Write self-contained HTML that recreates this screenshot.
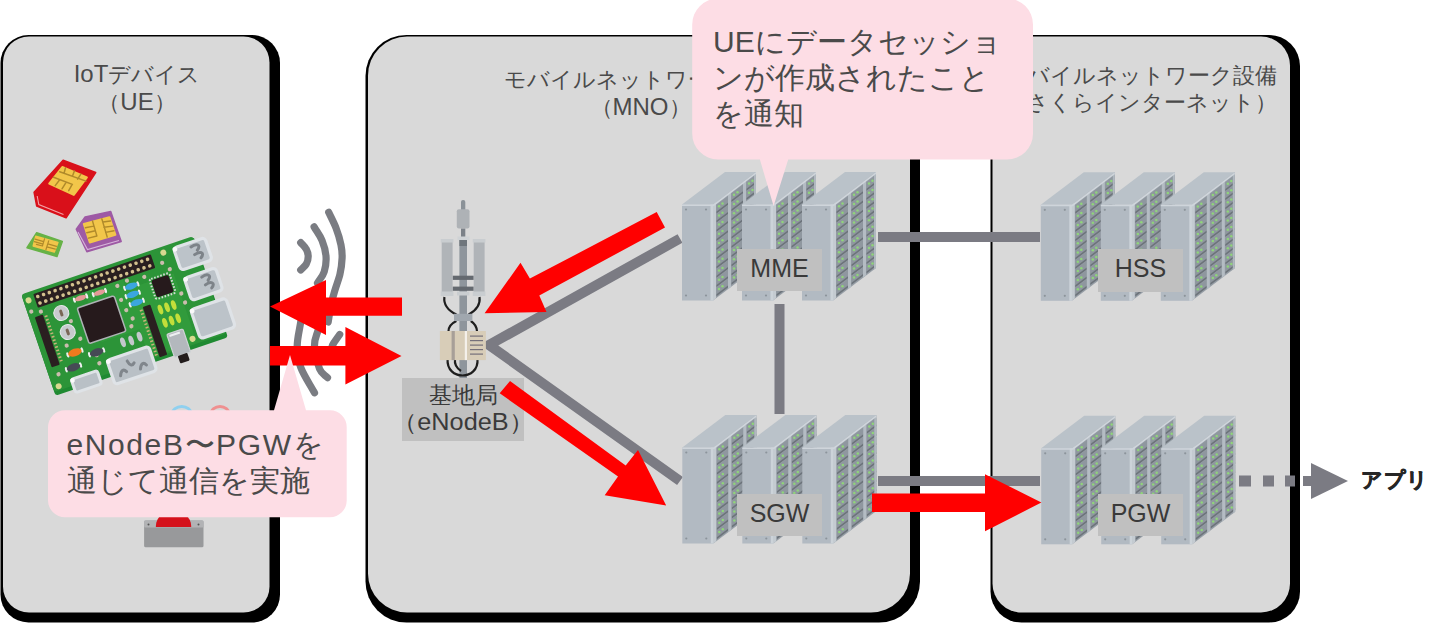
<!DOCTYPE html>
<html><head><meta charset="utf-8">
<style>
html,body{margin:0;padding:0;background:#fff;}
body{width:1442px;height:625px;position:relative;overflow:hidden;font-family:"Liberation Sans",sans-serif;}
svg{position:absolute;left:0;top:0;}
.t{position:absolute;white-space:nowrap;color:#404040;}
.title{font-size:22px;line-height:27px;text-align:center;color:#4a4a4a;}
.lab{position:absolute;background:#c0c0c0;color:#3a3a3a;text-align:center;font-size:25px;}
.callout{font-size:30px;line-height:36px;color:#4a4a4a;}
</style></head><body>
<svg width="1442" height="625" viewBox="0 0 1442 625">

  <rect x="0.5" y="35" width="279.5" height="587.5" rx="28" fill="#000"/>
  <rect x="3" y="36.5" width="266.5" height="576" rx="26" fill="#d9d9d9"/>
  <rect x="365.5" y="35" width="554.5" height="587.5" rx="41" fill="#000"/>
  <rect x="368" y="36.5" width="542" height="576" rx="39" fill="#d9d9d9"/>
  <rect x="990.5" y="35" width="309.5" height="587.5" rx="31" fill="#000"/>
  <rect x="992.5" y="36.5" width="297.5" height="576" rx="29" fill="#d9d9d9"/>

</svg>

<div class="t title" style="left:37px;top:60px;width:200px;"><span style="font-size:24px">IoT</span>デバイス<br>（<span style="font-size:24px">UE</span>）</div>
<div class="t title" style="left:490.5px;top:66px;width:300px;">モバイルネットワーク設備<br>（<span style="font-size:24px">MNO</span>）</div>
<div class="t title" style="left:990px;top:62px;width:300px;">モバイルネットワーク設備<br>（さくらインターネット）</div>
<svg width="1442" height="625" viewBox="0 0 1442 625">

  <g fill="none" stroke="#7b7b83" stroke-width="10">
    <path d="M680 238.5 L489 345 L680 481"/>
    <path d="M878 237 H1040"/>
    <path d="M779.5 304 V414"/>
    <path d="M878 481 H1040"/>
  </g>
  <g fill="#7b7b83">
    <rect x="1239" y="475.5" width="12" height="11"/>
    <rect x="1263" y="475.5" width="11" height="11"/>
    <rect x="1285" y="475.5" width="10" height="11"/>
    <rect x="1303" y="476" width="10" height="10"/>
    <path d="M1311 463 L1348 481 L1311 499 Z"/>
  </g>

</svg>
<svg width="1442" height="625" viewBox="0 0 1442 625">
<polygon points="682,204.5 713,204.5 756,172.0 725,172.0" fill="#bac2c9"/>
<polygon points="713,204.5 756,172.0 756,268.0 713,300.5" fill="#959da5"/>
<polygon points="716.5,204.9 728.0,196.2 728.0,202.7 716.5,211.4" fill="#8f979f"/>
<polygon points="716.5,211.4 728.0,202.7 728.0,204.7 716.5,213.4" fill="#6c737a"/>
<circle cx="719.0" cy="206.2" r="1.25" fill="#8fd47a"/>
<circle cx="722.5" cy="203.5" r="1.25" fill="#8fd47a"/>
<polygon points="716.5,214.1 728.0,205.4 728.0,211.9 716.5,220.6" fill="#8f979f"/>
<polygon points="716.5,220.6 728.0,211.9 728.0,213.9 716.5,222.6" fill="#6c737a"/>
<circle cx="719.0" cy="215.4" r="1.25" fill="#8fd47a"/>
<circle cx="722.5" cy="212.7" r="1.25" fill="#8fd47a"/>
<polygon points="716.5,223.3 728.0,214.6 728.0,221.1 716.5,229.8" fill="#8f979f"/>
<polygon points="716.5,229.8 728.0,221.1 728.0,223.1 716.5,231.8" fill="#6c737a"/>
<circle cx="719.0" cy="224.6" r="1.25" fill="#8fd47a"/>
<circle cx="722.5" cy="221.9" r="1.25" fill="#8fd47a"/>
<polygon points="716.5,232.5 728.0,223.8 728.0,230.3 716.5,239.0" fill="#8f979f"/>
<polygon points="716.5,239.0 728.0,230.3 728.0,232.3 716.5,241.0" fill="#6c737a"/>
<circle cx="719.0" cy="233.8" r="1.25" fill="#8fd47a"/>
<circle cx="722.5" cy="231.1" r="1.25" fill="#8fd47a"/>
<polygon points="716.5,241.7 728.0,233.0 728.0,239.5 716.5,248.2" fill="#8f979f"/>
<polygon points="716.5,248.2 728.0,239.5 728.0,241.5 716.5,250.2" fill="#6c737a"/>
<circle cx="719.0" cy="243.0" r="1.25" fill="#8fd47a"/>
<circle cx="722.5" cy="240.3" r="1.25" fill="#8fd47a"/>
<polygon points="716.5,250.9 728.0,242.2 728.0,248.7 716.5,257.4" fill="#8f979f"/>
<polygon points="716.5,257.4 728.0,248.7 728.0,250.7 716.5,259.4" fill="#6c737a"/>
<circle cx="719.0" cy="252.2" r="1.25" fill="#8fd47a"/>
<circle cx="722.5" cy="249.5" r="1.25" fill="#8fd47a"/>
<polygon points="716.5,260.1 728.0,251.4 728.0,257.9 716.5,266.6" fill="#8f979f"/>
<polygon points="716.5,266.6 728.0,257.9 728.0,259.9 716.5,268.6" fill="#6c737a"/>
<circle cx="719.0" cy="261.4" r="1.25" fill="#8fd47a"/>
<circle cx="722.5" cy="258.7" r="1.25" fill="#8fd47a"/>
<polygon points="716.5,269.3 728.0,260.6 728.0,267.1 716.5,275.8" fill="#8f979f"/>
<polygon points="716.5,275.8 728.0,267.1 728.0,269.1 716.5,277.8" fill="#6c737a"/>
<circle cx="719.0" cy="270.6" r="1.25" fill="#8fd47a"/>
<circle cx="722.5" cy="267.9" r="1.25" fill="#8fd47a"/>
<polygon points="716.5,278.5 728.0,269.8 728.0,276.3 716.5,285.0" fill="#8f979f"/>
<polygon points="716.5,285.0 728.0,276.3 728.0,278.3 716.5,287.0" fill="#6c737a"/>
<circle cx="719.0" cy="279.8" r="1.25" fill="#8fd47a"/>
<circle cx="722.5" cy="277.1" r="1.25" fill="#8fd47a"/>
<polygon points="716.5,287.7 728.0,279.0 728.0,285.5 716.5,294.2" fill="#8f979f"/>
<polygon points="716.5,294.2 728.0,285.5 728.0,287.5 716.5,296.2" fill="#6c737a"/>
<circle cx="719.0" cy="289.0" r="1.25" fill="#8fd47a"/>
<circle cx="722.5" cy="286.3" r="1.25" fill="#8fd47a"/>
<polygon points="731.5,193.5 743.0,184.8 743.0,191.3 731.5,200.0" fill="#8f979f"/>
<polygon points="731.5,200.0 743.0,191.3 743.0,193.3 731.5,202.0" fill="#6c737a"/>
<circle cx="734.0" cy="194.8" r="1.25" fill="#8fd47a"/>
<circle cx="737.5" cy="192.2" r="1.25" fill="#8fd47a"/>
<polygon points="731.5,202.7 743.0,194.0 743.0,200.5 731.5,209.2" fill="#8f979f"/>
<polygon points="731.5,209.2 743.0,200.5 743.0,202.5 731.5,211.2" fill="#6c737a"/>
<circle cx="734.0" cy="204.0" r="1.25" fill="#8fd47a"/>
<circle cx="737.5" cy="201.4" r="1.25" fill="#8fd47a"/>
<polygon points="731.5,211.9 743.0,203.2 743.0,209.7 731.5,218.4" fill="#8f979f"/>
<polygon points="731.5,218.4 743.0,209.7 743.0,211.7 731.5,220.4" fill="#6c737a"/>
<circle cx="734.0" cy="213.2" r="1.25" fill="#8fd47a"/>
<circle cx="737.5" cy="210.6" r="1.25" fill="#8fd47a"/>
<polygon points="731.5,221.1 743.0,212.4 743.0,218.9 731.5,227.6" fill="#8f979f"/>
<polygon points="731.5,227.6 743.0,218.9 743.0,220.9 731.5,229.6" fill="#6c737a"/>
<circle cx="734.0" cy="222.4" r="1.25" fill="#8fd47a"/>
<circle cx="737.5" cy="219.8" r="1.25" fill="#8fd47a"/>
<polygon points="731.5,230.3 743.0,221.6 743.0,228.1 731.5,236.8" fill="#8f979f"/>
<polygon points="731.5,236.8 743.0,228.1 743.0,230.1 731.5,238.8" fill="#6c737a"/>
<circle cx="734.0" cy="231.6" r="1.25" fill="#8fd47a"/>
<circle cx="737.5" cy="229.0" r="1.25" fill="#8fd47a"/>
<polygon points="731.5,239.5 743.0,230.8 743.0,237.3 731.5,246.0" fill="#8f979f"/>
<polygon points="731.5,246.0 743.0,237.3 743.0,239.3 731.5,248.0" fill="#6c737a"/>
<circle cx="734.0" cy="240.8" r="1.25" fill="#8fd47a"/>
<circle cx="737.5" cy="238.2" r="1.25" fill="#8fd47a"/>
<polygon points="731.5,248.7 743.0,240.0 743.0,246.5 731.5,255.2" fill="#8f979f"/>
<polygon points="731.5,255.2 743.0,246.5 743.0,248.5 731.5,257.2" fill="#6c737a"/>
<circle cx="734.0" cy="250.0" r="1.25" fill="#8fd47a"/>
<circle cx="737.5" cy="247.4" r="1.25" fill="#8fd47a"/>
<polygon points="731.5,257.9 743.0,249.2 743.0,255.7 731.5,264.4" fill="#8f979f"/>
<polygon points="731.5,264.4 743.0,255.7 743.0,257.7 731.5,266.4" fill="#6c737a"/>
<circle cx="734.0" cy="259.2" r="1.25" fill="#8fd47a"/>
<circle cx="737.5" cy="256.6" r="1.25" fill="#8fd47a"/>
<polygon points="731.5,267.1 743.0,258.4 743.0,264.9 731.5,273.6" fill="#8f979f"/>
<polygon points="731.5,273.6 743.0,264.9 743.0,266.9 731.5,275.6" fill="#6c737a"/>
<circle cx="734.0" cy="268.4" r="1.25" fill="#8fd47a"/>
<circle cx="737.5" cy="265.8" r="1.25" fill="#8fd47a"/>
<polygon points="731.5,276.3 743.0,267.6 743.0,274.1 731.5,282.8" fill="#8f979f"/>
<polygon points="731.5,282.8 743.0,274.1 743.0,276.1 731.5,284.8" fill="#6c737a"/>
<circle cx="734.0" cy="277.6" r="1.25" fill="#8fd47a"/>
<circle cx="737.5" cy="275.0" r="1.25" fill="#8fd47a"/>
<polygon points="746.5,182.2 756.0,175.0 756.0,181.5 746.5,188.7" fill="#8f979f"/>
<polygon points="746.5,188.7 756.0,181.5 756.0,183.5 746.5,190.7" fill="#6c737a"/>
<circle cx="749.0" cy="183.5" r="1.25" fill="#8fd47a"/>
<circle cx="752.5" cy="180.8" r="1.25" fill="#8fd47a"/>
<polygon points="746.5,191.4 756.0,184.2 756.0,190.7 746.5,197.9" fill="#8f979f"/>
<polygon points="746.5,197.9 756.0,190.7 756.0,192.7 746.5,199.9" fill="#6c737a"/>
<circle cx="749.0" cy="192.7" r="1.25" fill="#8fd47a"/>
<circle cx="752.5" cy="190.0" r="1.25" fill="#8fd47a"/>
<polygon points="746.5,200.6 756.0,193.4 756.0,199.9 746.5,207.1" fill="#8f979f"/>
<polygon points="746.5,207.1 756.0,199.9 756.0,201.9 746.5,209.1" fill="#6c737a"/>
<circle cx="749.0" cy="201.9" r="1.25" fill="#8fd47a"/>
<circle cx="752.5" cy="199.2" r="1.25" fill="#8fd47a"/>
<polygon points="746.5,209.8 756.0,202.6 756.0,209.1 746.5,216.3" fill="#8f979f"/>
<polygon points="746.5,216.3 756.0,209.1 756.0,211.1 746.5,218.3" fill="#6c737a"/>
<circle cx="749.0" cy="211.1" r="1.25" fill="#8fd47a"/>
<circle cx="752.5" cy="208.4" r="1.25" fill="#8fd47a"/>
<polygon points="746.5,219.0 756.0,211.8 756.0,218.3 746.5,225.5" fill="#8f979f"/>
<polygon points="746.5,225.5 756.0,218.3 756.0,220.3 746.5,227.5" fill="#6c737a"/>
<circle cx="749.0" cy="220.3" r="1.25" fill="#8fd47a"/>
<circle cx="752.5" cy="217.6" r="1.25" fill="#8fd47a"/>
<polygon points="746.5,228.2 756.0,221.0 756.0,227.5 746.5,234.7" fill="#8f979f"/>
<polygon points="746.5,234.7 756.0,227.5 756.0,229.5 746.5,236.7" fill="#6c737a"/>
<circle cx="749.0" cy="229.5" r="1.25" fill="#8fd47a"/>
<circle cx="752.5" cy="226.8" r="1.25" fill="#8fd47a"/>
<polygon points="746.5,237.4 756.0,230.2 756.0,236.7 746.5,243.9" fill="#8f979f"/>
<polygon points="746.5,243.9 756.0,236.7 756.0,238.7 746.5,245.9" fill="#6c737a"/>
<circle cx="749.0" cy="238.7" r="1.25" fill="#8fd47a"/>
<circle cx="752.5" cy="236.0" r="1.25" fill="#8fd47a"/>
<polygon points="746.5,246.6 756.0,239.4 756.0,245.9 746.5,253.1" fill="#8f979f"/>
<polygon points="746.5,253.1 756.0,245.9 756.0,247.9 746.5,255.1" fill="#6c737a"/>
<circle cx="749.0" cy="247.9" r="1.25" fill="#8fd47a"/>
<circle cx="752.5" cy="245.2" r="1.25" fill="#8fd47a"/>
<polygon points="746.5,255.8 756.0,248.6 756.0,255.1 746.5,262.3" fill="#8f979f"/>
<polygon points="746.5,262.3 756.0,255.1 756.0,257.1 746.5,264.3" fill="#6c737a"/>
<circle cx="749.0" cy="257.1" r="1.25" fill="#8fd47a"/>
<circle cx="752.5" cy="254.4" r="1.25" fill="#8fd47a"/>
<polygon points="746.5,265.0 756.0,257.8 756.0,264.3 746.5,271.5" fill="#8f979f"/>
<polygon points="746.5,271.5 756.0,264.3 756.0,266.3 746.5,273.5" fill="#6c737a"/>
<circle cx="749.0" cy="266.3" r="1.25" fill="#8fd47a"/>
<circle cx="752.5" cy="263.6" r="1.25" fill="#8fd47a"/>
<polygon points="728,193.16 731,190.892 731,286.892 728,289.16" fill="#b4bcc3"/>
<polygon points="743,181.82 746,179.552 746,275.552 743,277.82" fill="#b4bcc3"/>
<polygon points="754,173.5 756,172.0 756,268.0 754,269.5" fill="#b0b8bf"/>
<rect x="682" y="204.5" width="31" height="96" fill="#b2bac2"/>
<rect x="710.5" y="204.5" width="3" height="96" fill="#ccd3d9"/>
<polygon points="713,204.5 716,202.232 716,298.232 713,300.5" fill="#c4cbd1"/>
<polygon points="682,204.5 713,204.5 756,172.0 756,174.0 714,206.0 682,206.0" fill="#cfd5db"/>
<circle cx="686" cy="209.5" r="1.1" fill="#8c949b"/>
<circle cx="706" cy="209.5" r="1.1" fill="#8c949b"/>
<circle cx="686" cy="295.5" r="1.1" fill="#8c949b"/>
<circle cx="706" cy="295.5" r="1.1" fill="#8c949b"/>
<polygon points="742,204.5 773,204.5 816,172.0 785,172.0" fill="#bac2c9"/>
<polygon points="773,204.5 816,172.0 816,268.0 773,300.5" fill="#959da5"/>
<polygon points="776.5,204.9 788.0,196.2 788.0,202.7 776.5,211.4" fill="#8f979f"/>
<polygon points="776.5,211.4 788.0,202.7 788.0,204.7 776.5,213.4" fill="#6c737a"/>
<circle cx="779.0" cy="206.2" r="1.25" fill="#8fd47a"/>
<circle cx="782.5" cy="203.5" r="1.25" fill="#8fd47a"/>
<polygon points="776.5,214.1 788.0,205.4 788.0,211.9 776.5,220.6" fill="#8f979f"/>
<polygon points="776.5,220.6 788.0,211.9 788.0,213.9 776.5,222.6" fill="#6c737a"/>
<circle cx="779.0" cy="215.4" r="1.25" fill="#8fd47a"/>
<circle cx="782.5" cy="212.7" r="1.25" fill="#8fd47a"/>
<polygon points="776.5,223.3 788.0,214.6 788.0,221.1 776.5,229.8" fill="#8f979f"/>
<polygon points="776.5,229.8 788.0,221.1 788.0,223.1 776.5,231.8" fill="#6c737a"/>
<circle cx="779.0" cy="224.6" r="1.25" fill="#8fd47a"/>
<circle cx="782.5" cy="221.9" r="1.25" fill="#8fd47a"/>
<polygon points="776.5,232.5 788.0,223.8 788.0,230.3 776.5,239.0" fill="#8f979f"/>
<polygon points="776.5,239.0 788.0,230.3 788.0,232.3 776.5,241.0" fill="#6c737a"/>
<circle cx="779.0" cy="233.8" r="1.25" fill="#8fd47a"/>
<circle cx="782.5" cy="231.1" r="1.25" fill="#8fd47a"/>
<polygon points="776.5,241.7 788.0,233.0 788.0,239.5 776.5,248.2" fill="#8f979f"/>
<polygon points="776.5,248.2 788.0,239.5 788.0,241.5 776.5,250.2" fill="#6c737a"/>
<circle cx="779.0" cy="243.0" r="1.25" fill="#8fd47a"/>
<circle cx="782.5" cy="240.3" r="1.25" fill="#8fd47a"/>
<polygon points="776.5,250.9 788.0,242.2 788.0,248.7 776.5,257.4" fill="#8f979f"/>
<polygon points="776.5,257.4 788.0,248.7 788.0,250.7 776.5,259.4" fill="#6c737a"/>
<circle cx="779.0" cy="252.2" r="1.25" fill="#8fd47a"/>
<circle cx="782.5" cy="249.5" r="1.25" fill="#8fd47a"/>
<polygon points="776.5,260.1 788.0,251.4 788.0,257.9 776.5,266.6" fill="#8f979f"/>
<polygon points="776.5,266.6 788.0,257.9 788.0,259.9 776.5,268.6" fill="#6c737a"/>
<circle cx="779.0" cy="261.4" r="1.25" fill="#8fd47a"/>
<circle cx="782.5" cy="258.7" r="1.25" fill="#8fd47a"/>
<polygon points="776.5,269.3 788.0,260.6 788.0,267.1 776.5,275.8" fill="#8f979f"/>
<polygon points="776.5,275.8 788.0,267.1 788.0,269.1 776.5,277.8" fill="#6c737a"/>
<circle cx="779.0" cy="270.6" r="1.25" fill="#8fd47a"/>
<circle cx="782.5" cy="267.9" r="1.25" fill="#8fd47a"/>
<polygon points="776.5,278.5 788.0,269.8 788.0,276.3 776.5,285.0" fill="#8f979f"/>
<polygon points="776.5,285.0 788.0,276.3 788.0,278.3 776.5,287.0" fill="#6c737a"/>
<circle cx="779.0" cy="279.8" r="1.25" fill="#8fd47a"/>
<circle cx="782.5" cy="277.1" r="1.25" fill="#8fd47a"/>
<polygon points="776.5,287.7 788.0,279.0 788.0,285.5 776.5,294.2" fill="#8f979f"/>
<polygon points="776.5,294.2 788.0,285.5 788.0,287.5 776.5,296.2" fill="#6c737a"/>
<circle cx="779.0" cy="289.0" r="1.25" fill="#8fd47a"/>
<circle cx="782.5" cy="286.3" r="1.25" fill="#8fd47a"/>
<polygon points="791.5,193.5 803.0,184.8 803.0,191.3 791.5,200.0" fill="#8f979f"/>
<polygon points="791.5,200.0 803.0,191.3 803.0,193.3 791.5,202.0" fill="#6c737a"/>
<circle cx="794.0" cy="194.8" r="1.25" fill="#8fd47a"/>
<circle cx="797.5" cy="192.2" r="1.25" fill="#8fd47a"/>
<polygon points="791.5,202.7 803.0,194.0 803.0,200.5 791.5,209.2" fill="#8f979f"/>
<polygon points="791.5,209.2 803.0,200.5 803.0,202.5 791.5,211.2" fill="#6c737a"/>
<circle cx="794.0" cy="204.0" r="1.25" fill="#8fd47a"/>
<circle cx="797.5" cy="201.4" r="1.25" fill="#8fd47a"/>
<polygon points="791.5,211.9 803.0,203.2 803.0,209.7 791.5,218.4" fill="#8f979f"/>
<polygon points="791.5,218.4 803.0,209.7 803.0,211.7 791.5,220.4" fill="#6c737a"/>
<circle cx="794.0" cy="213.2" r="1.25" fill="#8fd47a"/>
<circle cx="797.5" cy="210.6" r="1.25" fill="#8fd47a"/>
<polygon points="791.5,221.1 803.0,212.4 803.0,218.9 791.5,227.6" fill="#8f979f"/>
<polygon points="791.5,227.6 803.0,218.9 803.0,220.9 791.5,229.6" fill="#6c737a"/>
<circle cx="794.0" cy="222.4" r="1.25" fill="#8fd47a"/>
<circle cx="797.5" cy="219.8" r="1.25" fill="#8fd47a"/>
<polygon points="791.5,230.3 803.0,221.6 803.0,228.1 791.5,236.8" fill="#8f979f"/>
<polygon points="791.5,236.8 803.0,228.1 803.0,230.1 791.5,238.8" fill="#6c737a"/>
<circle cx="794.0" cy="231.6" r="1.25" fill="#8fd47a"/>
<circle cx="797.5" cy="229.0" r="1.25" fill="#8fd47a"/>
<polygon points="791.5,239.5 803.0,230.8 803.0,237.3 791.5,246.0" fill="#8f979f"/>
<polygon points="791.5,246.0 803.0,237.3 803.0,239.3 791.5,248.0" fill="#6c737a"/>
<circle cx="794.0" cy="240.8" r="1.25" fill="#8fd47a"/>
<circle cx="797.5" cy="238.2" r="1.25" fill="#8fd47a"/>
<polygon points="791.5,248.7 803.0,240.0 803.0,246.5 791.5,255.2" fill="#8f979f"/>
<polygon points="791.5,255.2 803.0,246.5 803.0,248.5 791.5,257.2" fill="#6c737a"/>
<circle cx="794.0" cy="250.0" r="1.25" fill="#8fd47a"/>
<circle cx="797.5" cy="247.4" r="1.25" fill="#8fd47a"/>
<polygon points="791.5,257.9 803.0,249.2 803.0,255.7 791.5,264.4" fill="#8f979f"/>
<polygon points="791.5,264.4 803.0,255.7 803.0,257.7 791.5,266.4" fill="#6c737a"/>
<circle cx="794.0" cy="259.2" r="1.25" fill="#8fd47a"/>
<circle cx="797.5" cy="256.6" r="1.25" fill="#8fd47a"/>
<polygon points="791.5,267.1 803.0,258.4 803.0,264.9 791.5,273.6" fill="#8f979f"/>
<polygon points="791.5,273.6 803.0,264.9 803.0,266.9 791.5,275.6" fill="#6c737a"/>
<circle cx="794.0" cy="268.4" r="1.25" fill="#8fd47a"/>
<circle cx="797.5" cy="265.8" r="1.25" fill="#8fd47a"/>
<polygon points="791.5,276.3 803.0,267.6 803.0,274.1 791.5,282.8" fill="#8f979f"/>
<polygon points="791.5,282.8 803.0,274.1 803.0,276.1 791.5,284.8" fill="#6c737a"/>
<circle cx="794.0" cy="277.6" r="1.25" fill="#8fd47a"/>
<circle cx="797.5" cy="275.0" r="1.25" fill="#8fd47a"/>
<polygon points="806.5,182.2 816.0,175.0 816.0,181.5 806.5,188.7" fill="#8f979f"/>
<polygon points="806.5,188.7 816.0,181.5 816.0,183.5 806.5,190.7" fill="#6c737a"/>
<circle cx="809.0" cy="183.5" r="1.25" fill="#8fd47a"/>
<circle cx="812.5" cy="180.8" r="1.25" fill="#8fd47a"/>
<polygon points="806.5,191.4 816.0,184.2 816.0,190.7 806.5,197.9" fill="#8f979f"/>
<polygon points="806.5,197.9 816.0,190.7 816.0,192.7 806.5,199.9" fill="#6c737a"/>
<circle cx="809.0" cy="192.7" r="1.25" fill="#8fd47a"/>
<circle cx="812.5" cy="190.0" r="1.25" fill="#8fd47a"/>
<polygon points="806.5,200.6 816.0,193.4 816.0,199.9 806.5,207.1" fill="#8f979f"/>
<polygon points="806.5,207.1 816.0,199.9 816.0,201.9 806.5,209.1" fill="#6c737a"/>
<circle cx="809.0" cy="201.9" r="1.25" fill="#8fd47a"/>
<circle cx="812.5" cy="199.2" r="1.25" fill="#8fd47a"/>
<polygon points="806.5,209.8 816.0,202.6 816.0,209.1 806.5,216.3" fill="#8f979f"/>
<polygon points="806.5,216.3 816.0,209.1 816.0,211.1 806.5,218.3" fill="#6c737a"/>
<circle cx="809.0" cy="211.1" r="1.25" fill="#8fd47a"/>
<circle cx="812.5" cy="208.4" r="1.25" fill="#8fd47a"/>
<polygon points="806.5,219.0 816.0,211.8 816.0,218.3 806.5,225.5" fill="#8f979f"/>
<polygon points="806.5,225.5 816.0,218.3 816.0,220.3 806.5,227.5" fill="#6c737a"/>
<circle cx="809.0" cy="220.3" r="1.25" fill="#8fd47a"/>
<circle cx="812.5" cy="217.6" r="1.25" fill="#8fd47a"/>
<polygon points="806.5,228.2 816.0,221.0 816.0,227.5 806.5,234.7" fill="#8f979f"/>
<polygon points="806.5,234.7 816.0,227.5 816.0,229.5 806.5,236.7" fill="#6c737a"/>
<circle cx="809.0" cy="229.5" r="1.25" fill="#8fd47a"/>
<circle cx="812.5" cy="226.8" r="1.25" fill="#8fd47a"/>
<polygon points="806.5,237.4 816.0,230.2 816.0,236.7 806.5,243.9" fill="#8f979f"/>
<polygon points="806.5,243.9 816.0,236.7 816.0,238.7 806.5,245.9" fill="#6c737a"/>
<circle cx="809.0" cy="238.7" r="1.25" fill="#8fd47a"/>
<circle cx="812.5" cy="236.0" r="1.25" fill="#8fd47a"/>
<polygon points="806.5,246.6 816.0,239.4 816.0,245.9 806.5,253.1" fill="#8f979f"/>
<polygon points="806.5,253.1 816.0,245.9 816.0,247.9 806.5,255.1" fill="#6c737a"/>
<circle cx="809.0" cy="247.9" r="1.25" fill="#8fd47a"/>
<circle cx="812.5" cy="245.2" r="1.25" fill="#8fd47a"/>
<polygon points="806.5,255.8 816.0,248.6 816.0,255.1 806.5,262.3" fill="#8f979f"/>
<polygon points="806.5,262.3 816.0,255.1 816.0,257.1 806.5,264.3" fill="#6c737a"/>
<circle cx="809.0" cy="257.1" r="1.25" fill="#8fd47a"/>
<circle cx="812.5" cy="254.4" r="1.25" fill="#8fd47a"/>
<polygon points="806.5,265.0 816.0,257.8 816.0,264.3 806.5,271.5" fill="#8f979f"/>
<polygon points="806.5,271.5 816.0,264.3 816.0,266.3 806.5,273.5" fill="#6c737a"/>
<circle cx="809.0" cy="266.3" r="1.25" fill="#8fd47a"/>
<circle cx="812.5" cy="263.6" r="1.25" fill="#8fd47a"/>
<polygon points="788,193.16 791,190.892 791,286.892 788,289.16" fill="#b4bcc3"/>
<polygon points="803,181.82 806,179.552 806,275.552 803,277.82" fill="#b4bcc3"/>
<polygon points="814,173.5 816,172.0 816,268.0 814,269.5" fill="#b0b8bf"/>
<rect x="742" y="204.5" width="31" height="96" fill="#b2bac2"/>
<rect x="770.5" y="204.5" width="3" height="96" fill="#ccd3d9"/>
<polygon points="773,204.5 776,202.232 776,298.232 773,300.5" fill="#c4cbd1"/>
<polygon points="742,204.5 773,204.5 816,172.0 816,174.0 774,206.0 742,206.0" fill="#cfd5db"/>
<circle cx="746" cy="209.5" r="1.1" fill="#8c949b"/>
<circle cx="766" cy="209.5" r="1.1" fill="#8c949b"/>
<circle cx="746" cy="295.5" r="1.1" fill="#8c949b"/>
<circle cx="766" cy="295.5" r="1.1" fill="#8c949b"/>
<polygon points="802,204.5 833,204.5 876,172.0 845,172.0" fill="#bac2c9"/>
<polygon points="833,204.5 876,172.0 876,268.0 833,300.5" fill="#959da5"/>
<polygon points="836.5,204.9 848.0,196.2 848.0,202.7 836.5,211.4" fill="#8f979f"/>
<polygon points="836.5,211.4 848.0,202.7 848.0,204.7 836.5,213.4" fill="#6c737a"/>
<circle cx="839.0" cy="206.2" r="1.25" fill="#8fd47a"/>
<circle cx="842.5" cy="203.5" r="1.25" fill="#8fd47a"/>
<polygon points="836.5,214.1 848.0,205.4 848.0,211.9 836.5,220.6" fill="#8f979f"/>
<polygon points="836.5,220.6 848.0,211.9 848.0,213.9 836.5,222.6" fill="#6c737a"/>
<circle cx="839.0" cy="215.4" r="1.25" fill="#8fd47a"/>
<circle cx="842.5" cy="212.7" r="1.25" fill="#8fd47a"/>
<polygon points="836.5,223.3 848.0,214.6 848.0,221.1 836.5,229.8" fill="#8f979f"/>
<polygon points="836.5,229.8 848.0,221.1 848.0,223.1 836.5,231.8" fill="#6c737a"/>
<circle cx="839.0" cy="224.6" r="1.25" fill="#8fd47a"/>
<circle cx="842.5" cy="221.9" r="1.25" fill="#8fd47a"/>
<polygon points="836.5,232.5 848.0,223.8 848.0,230.3 836.5,239.0" fill="#8f979f"/>
<polygon points="836.5,239.0 848.0,230.3 848.0,232.3 836.5,241.0" fill="#6c737a"/>
<circle cx="839.0" cy="233.8" r="1.25" fill="#8fd47a"/>
<circle cx="842.5" cy="231.1" r="1.25" fill="#8fd47a"/>
<polygon points="836.5,241.7 848.0,233.0 848.0,239.5 836.5,248.2" fill="#8f979f"/>
<polygon points="836.5,248.2 848.0,239.5 848.0,241.5 836.5,250.2" fill="#6c737a"/>
<circle cx="839.0" cy="243.0" r="1.25" fill="#8fd47a"/>
<circle cx="842.5" cy="240.3" r="1.25" fill="#8fd47a"/>
<polygon points="836.5,250.9 848.0,242.2 848.0,248.7 836.5,257.4" fill="#8f979f"/>
<polygon points="836.5,257.4 848.0,248.7 848.0,250.7 836.5,259.4" fill="#6c737a"/>
<circle cx="839.0" cy="252.2" r="1.25" fill="#8fd47a"/>
<circle cx="842.5" cy="249.5" r="1.25" fill="#8fd47a"/>
<polygon points="836.5,260.1 848.0,251.4 848.0,257.9 836.5,266.6" fill="#8f979f"/>
<polygon points="836.5,266.6 848.0,257.9 848.0,259.9 836.5,268.6" fill="#6c737a"/>
<circle cx="839.0" cy="261.4" r="1.25" fill="#8fd47a"/>
<circle cx="842.5" cy="258.7" r="1.25" fill="#8fd47a"/>
<polygon points="836.5,269.3 848.0,260.6 848.0,267.1 836.5,275.8" fill="#8f979f"/>
<polygon points="836.5,275.8 848.0,267.1 848.0,269.1 836.5,277.8" fill="#6c737a"/>
<circle cx="839.0" cy="270.6" r="1.25" fill="#8fd47a"/>
<circle cx="842.5" cy="267.9" r="1.25" fill="#8fd47a"/>
<polygon points="836.5,278.5 848.0,269.8 848.0,276.3 836.5,285.0" fill="#8f979f"/>
<polygon points="836.5,285.0 848.0,276.3 848.0,278.3 836.5,287.0" fill="#6c737a"/>
<circle cx="839.0" cy="279.8" r="1.25" fill="#8fd47a"/>
<circle cx="842.5" cy="277.1" r="1.25" fill="#8fd47a"/>
<polygon points="836.5,287.7 848.0,279.0 848.0,285.5 836.5,294.2" fill="#8f979f"/>
<polygon points="836.5,294.2 848.0,285.5 848.0,287.5 836.5,296.2" fill="#6c737a"/>
<circle cx="839.0" cy="289.0" r="1.25" fill="#8fd47a"/>
<circle cx="842.5" cy="286.3" r="1.25" fill="#8fd47a"/>
<polygon points="851.5,193.5 863.0,184.8 863.0,191.3 851.5,200.0" fill="#8f979f"/>
<polygon points="851.5,200.0 863.0,191.3 863.0,193.3 851.5,202.0" fill="#6c737a"/>
<circle cx="854.0" cy="194.8" r="1.25" fill="#8fd47a"/>
<circle cx="857.5" cy="192.2" r="1.25" fill="#8fd47a"/>
<polygon points="851.5,202.7 863.0,194.0 863.0,200.5 851.5,209.2" fill="#8f979f"/>
<polygon points="851.5,209.2 863.0,200.5 863.0,202.5 851.5,211.2" fill="#6c737a"/>
<circle cx="854.0" cy="204.0" r="1.25" fill="#8fd47a"/>
<circle cx="857.5" cy="201.4" r="1.25" fill="#8fd47a"/>
<polygon points="851.5,211.9 863.0,203.2 863.0,209.7 851.5,218.4" fill="#8f979f"/>
<polygon points="851.5,218.4 863.0,209.7 863.0,211.7 851.5,220.4" fill="#6c737a"/>
<circle cx="854.0" cy="213.2" r="1.25" fill="#8fd47a"/>
<circle cx="857.5" cy="210.6" r="1.25" fill="#8fd47a"/>
<polygon points="851.5,221.1 863.0,212.4 863.0,218.9 851.5,227.6" fill="#8f979f"/>
<polygon points="851.5,227.6 863.0,218.9 863.0,220.9 851.5,229.6" fill="#6c737a"/>
<circle cx="854.0" cy="222.4" r="1.25" fill="#8fd47a"/>
<circle cx="857.5" cy="219.8" r="1.25" fill="#8fd47a"/>
<polygon points="851.5,230.3 863.0,221.6 863.0,228.1 851.5,236.8" fill="#8f979f"/>
<polygon points="851.5,236.8 863.0,228.1 863.0,230.1 851.5,238.8" fill="#6c737a"/>
<circle cx="854.0" cy="231.6" r="1.25" fill="#8fd47a"/>
<circle cx="857.5" cy="229.0" r="1.25" fill="#8fd47a"/>
<polygon points="851.5,239.5 863.0,230.8 863.0,237.3 851.5,246.0" fill="#8f979f"/>
<polygon points="851.5,246.0 863.0,237.3 863.0,239.3 851.5,248.0" fill="#6c737a"/>
<circle cx="854.0" cy="240.8" r="1.25" fill="#8fd47a"/>
<circle cx="857.5" cy="238.2" r="1.25" fill="#8fd47a"/>
<polygon points="851.5,248.7 863.0,240.0 863.0,246.5 851.5,255.2" fill="#8f979f"/>
<polygon points="851.5,255.2 863.0,246.5 863.0,248.5 851.5,257.2" fill="#6c737a"/>
<circle cx="854.0" cy="250.0" r="1.25" fill="#8fd47a"/>
<circle cx="857.5" cy="247.4" r="1.25" fill="#8fd47a"/>
<polygon points="851.5,257.9 863.0,249.2 863.0,255.7 851.5,264.4" fill="#8f979f"/>
<polygon points="851.5,264.4 863.0,255.7 863.0,257.7 851.5,266.4" fill="#6c737a"/>
<circle cx="854.0" cy="259.2" r="1.25" fill="#8fd47a"/>
<circle cx="857.5" cy="256.6" r="1.25" fill="#8fd47a"/>
<polygon points="851.5,267.1 863.0,258.4 863.0,264.9 851.5,273.6" fill="#8f979f"/>
<polygon points="851.5,273.6 863.0,264.9 863.0,266.9 851.5,275.6" fill="#6c737a"/>
<circle cx="854.0" cy="268.4" r="1.25" fill="#8fd47a"/>
<circle cx="857.5" cy="265.8" r="1.25" fill="#8fd47a"/>
<polygon points="851.5,276.3 863.0,267.6 863.0,274.1 851.5,282.8" fill="#8f979f"/>
<polygon points="851.5,282.8 863.0,274.1 863.0,276.1 851.5,284.8" fill="#6c737a"/>
<circle cx="854.0" cy="277.6" r="1.25" fill="#8fd47a"/>
<circle cx="857.5" cy="275.0" r="1.25" fill="#8fd47a"/>
<polygon points="866.5,182.2 876.0,175.0 876.0,181.5 866.5,188.7" fill="#8f979f"/>
<polygon points="866.5,188.7 876.0,181.5 876.0,183.5 866.5,190.7" fill="#6c737a"/>
<circle cx="869.0" cy="183.5" r="1.25" fill="#8fd47a"/>
<circle cx="872.5" cy="180.8" r="1.25" fill="#8fd47a"/>
<polygon points="866.5,191.4 876.0,184.2 876.0,190.7 866.5,197.9" fill="#8f979f"/>
<polygon points="866.5,197.9 876.0,190.7 876.0,192.7 866.5,199.9" fill="#6c737a"/>
<circle cx="869.0" cy="192.7" r="1.25" fill="#8fd47a"/>
<circle cx="872.5" cy="190.0" r="1.25" fill="#8fd47a"/>
<polygon points="866.5,200.6 876.0,193.4 876.0,199.9 866.5,207.1" fill="#8f979f"/>
<polygon points="866.5,207.1 876.0,199.9 876.0,201.9 866.5,209.1" fill="#6c737a"/>
<circle cx="869.0" cy="201.9" r="1.25" fill="#8fd47a"/>
<circle cx="872.5" cy="199.2" r="1.25" fill="#8fd47a"/>
<polygon points="866.5,209.8 876.0,202.6 876.0,209.1 866.5,216.3" fill="#8f979f"/>
<polygon points="866.5,216.3 876.0,209.1 876.0,211.1 866.5,218.3" fill="#6c737a"/>
<circle cx="869.0" cy="211.1" r="1.25" fill="#8fd47a"/>
<circle cx="872.5" cy="208.4" r="1.25" fill="#8fd47a"/>
<polygon points="866.5,219.0 876.0,211.8 876.0,218.3 866.5,225.5" fill="#8f979f"/>
<polygon points="866.5,225.5 876.0,218.3 876.0,220.3 866.5,227.5" fill="#6c737a"/>
<circle cx="869.0" cy="220.3" r="1.25" fill="#8fd47a"/>
<circle cx="872.5" cy="217.6" r="1.25" fill="#8fd47a"/>
<polygon points="866.5,228.2 876.0,221.0 876.0,227.5 866.5,234.7" fill="#8f979f"/>
<polygon points="866.5,234.7 876.0,227.5 876.0,229.5 866.5,236.7" fill="#6c737a"/>
<circle cx="869.0" cy="229.5" r="1.25" fill="#8fd47a"/>
<circle cx="872.5" cy="226.8" r="1.25" fill="#8fd47a"/>
<polygon points="866.5,237.4 876.0,230.2 876.0,236.7 866.5,243.9" fill="#8f979f"/>
<polygon points="866.5,243.9 876.0,236.7 876.0,238.7 866.5,245.9" fill="#6c737a"/>
<circle cx="869.0" cy="238.7" r="1.25" fill="#8fd47a"/>
<circle cx="872.5" cy="236.0" r="1.25" fill="#8fd47a"/>
<polygon points="866.5,246.6 876.0,239.4 876.0,245.9 866.5,253.1" fill="#8f979f"/>
<polygon points="866.5,253.1 876.0,245.9 876.0,247.9 866.5,255.1" fill="#6c737a"/>
<circle cx="869.0" cy="247.9" r="1.25" fill="#8fd47a"/>
<circle cx="872.5" cy="245.2" r="1.25" fill="#8fd47a"/>
<polygon points="866.5,255.8 876.0,248.6 876.0,255.1 866.5,262.3" fill="#8f979f"/>
<polygon points="866.5,262.3 876.0,255.1 876.0,257.1 866.5,264.3" fill="#6c737a"/>
<circle cx="869.0" cy="257.1" r="1.25" fill="#8fd47a"/>
<circle cx="872.5" cy="254.4" r="1.25" fill="#8fd47a"/>
<polygon points="866.5,265.0 876.0,257.8 876.0,264.3 866.5,271.5" fill="#8f979f"/>
<polygon points="866.5,271.5 876.0,264.3 876.0,266.3 866.5,273.5" fill="#6c737a"/>
<circle cx="869.0" cy="266.3" r="1.25" fill="#8fd47a"/>
<circle cx="872.5" cy="263.6" r="1.25" fill="#8fd47a"/>
<polygon points="848,193.16 851,190.892 851,286.892 848,289.16" fill="#b4bcc3"/>
<polygon points="863,181.82 866,179.552 866,275.552 863,277.82" fill="#b4bcc3"/>
<polygon points="874,173.5 876,172.0 876,268.0 874,269.5" fill="#b0b8bf"/>
<rect x="802" y="204.5" width="31" height="96" fill="#b2bac2"/>
<rect x="830.5" y="204.5" width="3" height="96" fill="#ccd3d9"/>
<polygon points="833,204.5 836,202.232 836,298.232 833,300.5" fill="#c4cbd1"/>
<polygon points="802,204.5 833,204.5 876,172.0 876,174.0 834,206.0 802,206.0" fill="#cfd5db"/>
<circle cx="806" cy="209.5" r="1.1" fill="#8c949b"/>
<circle cx="826" cy="209.5" r="1.1" fill="#8c949b"/>
<circle cx="806" cy="295.5" r="1.1" fill="#8c949b"/>
<circle cx="826" cy="295.5" r="1.1" fill="#8c949b"/>
<polygon points="682.3,447.5 713.3,447.5 756.3,415.0 725.3,415.0" fill="#bac2c9"/>
<polygon points="713.3,447.5 756.3,415.0 756.3,511.0 713.3,543.5" fill="#959da5"/>
<polygon points="716.8,447.9 728.3,439.2 728.3,445.7 716.8,454.4" fill="#8f979f"/>
<polygon points="716.8,454.4 728.3,445.7 728.3,447.7 716.8,456.4" fill="#6c737a"/>
<circle cx="719.3" cy="449.2" r="1.25" fill="#8fd47a"/>
<circle cx="722.8" cy="446.5" r="1.25" fill="#8fd47a"/>
<polygon points="716.8,457.1 728.3,448.4 728.3,454.9 716.8,463.6" fill="#8f979f"/>
<polygon points="716.8,463.6 728.3,454.9 728.3,456.9 716.8,465.6" fill="#6c737a"/>
<circle cx="719.3" cy="458.4" r="1.25" fill="#8fd47a"/>
<circle cx="722.8" cy="455.7" r="1.25" fill="#8fd47a"/>
<polygon points="716.8,466.3 728.3,457.6 728.3,464.1 716.8,472.8" fill="#8f979f"/>
<polygon points="716.8,472.8 728.3,464.1 728.3,466.1 716.8,474.8" fill="#6c737a"/>
<circle cx="719.3" cy="467.6" r="1.25" fill="#8fd47a"/>
<circle cx="722.8" cy="464.9" r="1.25" fill="#8fd47a"/>
<polygon points="716.8,475.5 728.3,466.8 728.3,473.3 716.8,482.0" fill="#8f979f"/>
<polygon points="716.8,482.0 728.3,473.3 728.3,475.3 716.8,484.0" fill="#6c737a"/>
<circle cx="719.3" cy="476.8" r="1.25" fill="#8fd47a"/>
<circle cx="722.8" cy="474.1" r="1.25" fill="#8fd47a"/>
<polygon points="716.8,484.7 728.3,476.0 728.3,482.5 716.8,491.2" fill="#8f979f"/>
<polygon points="716.8,491.2 728.3,482.5 728.3,484.5 716.8,493.2" fill="#6c737a"/>
<circle cx="719.3" cy="486.0" r="1.25" fill="#8fd47a"/>
<circle cx="722.8" cy="483.3" r="1.25" fill="#8fd47a"/>
<polygon points="716.8,493.9 728.3,485.2 728.3,491.7 716.8,500.4" fill="#8f979f"/>
<polygon points="716.8,500.4 728.3,491.7 728.3,493.7 716.8,502.4" fill="#6c737a"/>
<circle cx="719.3" cy="495.2" r="1.25" fill="#8fd47a"/>
<circle cx="722.8" cy="492.5" r="1.25" fill="#8fd47a"/>
<polygon points="716.8,503.1 728.3,494.4 728.3,500.9 716.8,509.6" fill="#8f979f"/>
<polygon points="716.8,509.6 728.3,500.9 728.3,502.9 716.8,511.6" fill="#6c737a"/>
<circle cx="719.3" cy="504.4" r="1.25" fill="#8fd47a"/>
<circle cx="722.8" cy="501.7" r="1.25" fill="#8fd47a"/>
<polygon points="716.8,512.3 728.3,503.6 728.3,510.1 716.8,518.8" fill="#8f979f"/>
<polygon points="716.8,518.8 728.3,510.1 728.3,512.1 716.8,520.8" fill="#6c737a"/>
<circle cx="719.3" cy="513.6" r="1.25" fill="#8fd47a"/>
<circle cx="722.8" cy="510.9" r="1.25" fill="#8fd47a"/>
<polygon points="716.8,521.5 728.3,512.8 728.3,519.3 716.8,528.0" fill="#8f979f"/>
<polygon points="716.8,528.0 728.3,519.3 728.3,521.3 716.8,530.0" fill="#6c737a"/>
<circle cx="719.3" cy="522.8" r="1.25" fill="#8fd47a"/>
<circle cx="722.8" cy="520.1" r="1.25" fill="#8fd47a"/>
<polygon points="716.8,530.7 728.3,522.0 728.3,528.5 716.8,537.2" fill="#8f979f"/>
<polygon points="716.8,537.2 728.3,528.5 728.3,530.5 716.8,539.2" fill="#6c737a"/>
<circle cx="719.3" cy="532.0" r="1.25" fill="#8fd47a"/>
<circle cx="722.8" cy="529.3" r="1.25" fill="#8fd47a"/>
<polygon points="731.8,436.5 743.3,427.8 743.3,434.3 731.8,443.0" fill="#8f979f"/>
<polygon points="731.8,443.0 743.3,434.3 743.3,436.3 731.8,445.0" fill="#6c737a"/>
<circle cx="734.3" cy="437.8" r="1.25" fill="#8fd47a"/>
<circle cx="737.8" cy="435.2" r="1.25" fill="#8fd47a"/>
<polygon points="731.8,445.7 743.3,437.0 743.3,443.5 731.8,452.2" fill="#8f979f"/>
<polygon points="731.8,452.2 743.3,443.5 743.3,445.5 731.8,454.2" fill="#6c737a"/>
<circle cx="734.3" cy="447.0" r="1.25" fill="#8fd47a"/>
<circle cx="737.8" cy="444.4" r="1.25" fill="#8fd47a"/>
<polygon points="731.8,454.9 743.3,446.2 743.3,452.7 731.8,461.4" fill="#8f979f"/>
<polygon points="731.8,461.4 743.3,452.7 743.3,454.7 731.8,463.4" fill="#6c737a"/>
<circle cx="734.3" cy="456.2" r="1.25" fill="#8fd47a"/>
<circle cx="737.8" cy="453.6" r="1.25" fill="#8fd47a"/>
<polygon points="731.8,464.1 743.3,455.4 743.3,461.9 731.8,470.6" fill="#8f979f"/>
<polygon points="731.8,470.6 743.3,461.9 743.3,463.9 731.8,472.6" fill="#6c737a"/>
<circle cx="734.3" cy="465.4" r="1.25" fill="#8fd47a"/>
<circle cx="737.8" cy="462.8" r="1.25" fill="#8fd47a"/>
<polygon points="731.8,473.3 743.3,464.6 743.3,471.1 731.8,479.8" fill="#8f979f"/>
<polygon points="731.8,479.8 743.3,471.1 743.3,473.1 731.8,481.8" fill="#6c737a"/>
<circle cx="734.3" cy="474.6" r="1.25" fill="#8fd47a"/>
<circle cx="737.8" cy="472.0" r="1.25" fill="#8fd47a"/>
<polygon points="731.8,482.5 743.3,473.8 743.3,480.3 731.8,489.0" fill="#8f979f"/>
<polygon points="731.8,489.0 743.3,480.3 743.3,482.3 731.8,491.0" fill="#6c737a"/>
<circle cx="734.3" cy="483.8" r="1.25" fill="#8fd47a"/>
<circle cx="737.8" cy="481.2" r="1.25" fill="#8fd47a"/>
<polygon points="731.8,491.7 743.3,483.0 743.3,489.5 731.8,498.2" fill="#8f979f"/>
<polygon points="731.8,498.2 743.3,489.5 743.3,491.5 731.8,500.2" fill="#6c737a"/>
<circle cx="734.3" cy="493.0" r="1.25" fill="#8fd47a"/>
<circle cx="737.8" cy="490.4" r="1.25" fill="#8fd47a"/>
<polygon points="731.8,500.9 743.3,492.2 743.3,498.7 731.8,507.4" fill="#8f979f"/>
<polygon points="731.8,507.4 743.3,498.7 743.3,500.7 731.8,509.4" fill="#6c737a"/>
<circle cx="734.3" cy="502.2" r="1.25" fill="#8fd47a"/>
<circle cx="737.8" cy="499.6" r="1.25" fill="#8fd47a"/>
<polygon points="731.8,510.1 743.3,501.4 743.3,507.9 731.8,516.6" fill="#8f979f"/>
<polygon points="731.8,516.6 743.3,507.9 743.3,509.9 731.8,518.6" fill="#6c737a"/>
<circle cx="734.3" cy="511.4" r="1.25" fill="#8fd47a"/>
<circle cx="737.8" cy="508.8" r="1.25" fill="#8fd47a"/>
<polygon points="731.8,519.3 743.3,510.6 743.3,517.1 731.8,525.8" fill="#8f979f"/>
<polygon points="731.8,525.8 743.3,517.1 743.3,519.1 731.8,527.8" fill="#6c737a"/>
<circle cx="734.3" cy="520.6" r="1.25" fill="#8fd47a"/>
<circle cx="737.8" cy="518.0" r="1.25" fill="#8fd47a"/>
<polygon points="746.8,425.2 756.3,418.0 756.3,424.5 746.8,431.7" fill="#8f979f"/>
<polygon points="746.8,431.7 756.3,424.5 756.3,426.5 746.8,433.7" fill="#6c737a"/>
<circle cx="749.3" cy="426.5" r="1.25" fill="#8fd47a"/>
<circle cx="752.8" cy="423.8" r="1.25" fill="#8fd47a"/>
<polygon points="746.8,434.4 756.3,427.2 756.3,433.7 746.8,440.9" fill="#8f979f"/>
<polygon points="746.8,440.9 756.3,433.7 756.3,435.7 746.8,442.9" fill="#6c737a"/>
<circle cx="749.3" cy="435.7" r="1.25" fill="#8fd47a"/>
<circle cx="752.8" cy="433.0" r="1.25" fill="#8fd47a"/>
<polygon points="746.8,443.6 756.3,436.4 756.3,442.9 746.8,450.1" fill="#8f979f"/>
<polygon points="746.8,450.1 756.3,442.9 756.3,444.9 746.8,452.1" fill="#6c737a"/>
<circle cx="749.3" cy="444.9" r="1.25" fill="#8fd47a"/>
<circle cx="752.8" cy="442.2" r="1.25" fill="#8fd47a"/>
<polygon points="746.8,452.8 756.3,445.6 756.3,452.1 746.8,459.3" fill="#8f979f"/>
<polygon points="746.8,459.3 756.3,452.1 756.3,454.1 746.8,461.3" fill="#6c737a"/>
<circle cx="749.3" cy="454.1" r="1.25" fill="#8fd47a"/>
<circle cx="752.8" cy="451.4" r="1.25" fill="#8fd47a"/>
<polygon points="746.8,462.0 756.3,454.8 756.3,461.3 746.8,468.5" fill="#8f979f"/>
<polygon points="746.8,468.5 756.3,461.3 756.3,463.3 746.8,470.5" fill="#6c737a"/>
<circle cx="749.3" cy="463.3" r="1.25" fill="#8fd47a"/>
<circle cx="752.8" cy="460.6" r="1.25" fill="#8fd47a"/>
<polygon points="746.8,471.2 756.3,464.0 756.3,470.5 746.8,477.7" fill="#8f979f"/>
<polygon points="746.8,477.7 756.3,470.5 756.3,472.5 746.8,479.7" fill="#6c737a"/>
<circle cx="749.3" cy="472.5" r="1.25" fill="#8fd47a"/>
<circle cx="752.8" cy="469.8" r="1.25" fill="#8fd47a"/>
<polygon points="746.8,480.4 756.3,473.2 756.3,479.7 746.8,486.9" fill="#8f979f"/>
<polygon points="746.8,486.9 756.3,479.7 756.3,481.7 746.8,488.9" fill="#6c737a"/>
<circle cx="749.3" cy="481.7" r="1.25" fill="#8fd47a"/>
<circle cx="752.8" cy="479.0" r="1.25" fill="#8fd47a"/>
<polygon points="746.8,489.6 756.3,482.4 756.3,488.9 746.8,496.1" fill="#8f979f"/>
<polygon points="746.8,496.1 756.3,488.9 756.3,490.9 746.8,498.1" fill="#6c737a"/>
<circle cx="749.3" cy="490.9" r="1.25" fill="#8fd47a"/>
<circle cx="752.8" cy="488.2" r="1.25" fill="#8fd47a"/>
<polygon points="746.8,498.8 756.3,491.6 756.3,498.1 746.8,505.3" fill="#8f979f"/>
<polygon points="746.8,505.3 756.3,498.1 756.3,500.1 746.8,507.3" fill="#6c737a"/>
<circle cx="749.3" cy="500.1" r="1.25" fill="#8fd47a"/>
<circle cx="752.8" cy="497.4" r="1.25" fill="#8fd47a"/>
<polygon points="746.8,508.0 756.3,500.8 756.3,507.3 746.8,514.5" fill="#8f979f"/>
<polygon points="746.8,514.5 756.3,507.3 756.3,509.3 746.8,516.5" fill="#6c737a"/>
<circle cx="749.3" cy="509.3" r="1.25" fill="#8fd47a"/>
<circle cx="752.8" cy="506.6" r="1.25" fill="#8fd47a"/>
<polygon points="728.3,436.16 731.3,433.892 731.3,529.892 728.3,532.16" fill="#b4bcc3"/>
<polygon points="743.3,424.82 746.3,422.552 746.3,518.552 743.3,520.82" fill="#b4bcc3"/>
<polygon points="754.3,416.5 756.3,415.0 756.3,511.0 754.3,512.5" fill="#b0b8bf"/>
<rect x="682.3" y="447.5" width="31" height="96" fill="#b2bac2"/>
<rect x="710.8" y="447.5" width="3" height="96" fill="#ccd3d9"/>
<polygon points="713.3,447.5 716.3,445.232 716.3,541.232 713.3,543.5" fill="#c4cbd1"/>
<polygon points="682.3,447.5 713.3,447.5 756.3,415.0 756.3,417.0 714.3,449.0 682.3,449.0" fill="#cfd5db"/>
<circle cx="686.3" cy="452.5" r="1.1" fill="#8c949b"/>
<circle cx="706.3" cy="452.5" r="1.1" fill="#8c949b"/>
<circle cx="686.3" cy="538.5" r="1.1" fill="#8c949b"/>
<circle cx="706.3" cy="538.5" r="1.1" fill="#8c949b"/>
<polygon points="742.3,447.5 773.3,447.5 816.3,415.0 785.3,415.0" fill="#bac2c9"/>
<polygon points="773.3,447.5 816.3,415.0 816.3,511.0 773.3,543.5" fill="#959da5"/>
<polygon points="776.8,447.9 788.3,439.2 788.3,445.7 776.8,454.4" fill="#8f979f"/>
<polygon points="776.8,454.4 788.3,445.7 788.3,447.7 776.8,456.4" fill="#6c737a"/>
<circle cx="779.3" cy="449.2" r="1.25" fill="#8fd47a"/>
<circle cx="782.8" cy="446.5" r="1.25" fill="#8fd47a"/>
<polygon points="776.8,457.1 788.3,448.4 788.3,454.9 776.8,463.6" fill="#8f979f"/>
<polygon points="776.8,463.6 788.3,454.9 788.3,456.9 776.8,465.6" fill="#6c737a"/>
<circle cx="779.3" cy="458.4" r="1.25" fill="#8fd47a"/>
<circle cx="782.8" cy="455.7" r="1.25" fill="#8fd47a"/>
<polygon points="776.8,466.3 788.3,457.6 788.3,464.1 776.8,472.8" fill="#8f979f"/>
<polygon points="776.8,472.8 788.3,464.1 788.3,466.1 776.8,474.8" fill="#6c737a"/>
<circle cx="779.3" cy="467.6" r="1.25" fill="#8fd47a"/>
<circle cx="782.8" cy="464.9" r="1.25" fill="#8fd47a"/>
<polygon points="776.8,475.5 788.3,466.8 788.3,473.3 776.8,482.0" fill="#8f979f"/>
<polygon points="776.8,482.0 788.3,473.3 788.3,475.3 776.8,484.0" fill="#6c737a"/>
<circle cx="779.3" cy="476.8" r="1.25" fill="#8fd47a"/>
<circle cx="782.8" cy="474.1" r="1.25" fill="#8fd47a"/>
<polygon points="776.8,484.7 788.3,476.0 788.3,482.5 776.8,491.2" fill="#8f979f"/>
<polygon points="776.8,491.2 788.3,482.5 788.3,484.5 776.8,493.2" fill="#6c737a"/>
<circle cx="779.3" cy="486.0" r="1.25" fill="#8fd47a"/>
<circle cx="782.8" cy="483.3" r="1.25" fill="#8fd47a"/>
<polygon points="776.8,493.9 788.3,485.2 788.3,491.7 776.8,500.4" fill="#8f979f"/>
<polygon points="776.8,500.4 788.3,491.7 788.3,493.7 776.8,502.4" fill="#6c737a"/>
<circle cx="779.3" cy="495.2" r="1.25" fill="#8fd47a"/>
<circle cx="782.8" cy="492.5" r="1.25" fill="#8fd47a"/>
<polygon points="776.8,503.1 788.3,494.4 788.3,500.9 776.8,509.6" fill="#8f979f"/>
<polygon points="776.8,509.6 788.3,500.9 788.3,502.9 776.8,511.6" fill="#6c737a"/>
<circle cx="779.3" cy="504.4" r="1.25" fill="#8fd47a"/>
<circle cx="782.8" cy="501.7" r="1.25" fill="#8fd47a"/>
<polygon points="776.8,512.3 788.3,503.6 788.3,510.1 776.8,518.8" fill="#8f979f"/>
<polygon points="776.8,518.8 788.3,510.1 788.3,512.1 776.8,520.8" fill="#6c737a"/>
<circle cx="779.3" cy="513.6" r="1.25" fill="#8fd47a"/>
<circle cx="782.8" cy="510.9" r="1.25" fill="#8fd47a"/>
<polygon points="776.8,521.5 788.3,512.8 788.3,519.3 776.8,528.0" fill="#8f979f"/>
<polygon points="776.8,528.0 788.3,519.3 788.3,521.3 776.8,530.0" fill="#6c737a"/>
<circle cx="779.3" cy="522.8" r="1.25" fill="#8fd47a"/>
<circle cx="782.8" cy="520.1" r="1.25" fill="#8fd47a"/>
<polygon points="776.8,530.7 788.3,522.0 788.3,528.5 776.8,537.2" fill="#8f979f"/>
<polygon points="776.8,537.2 788.3,528.5 788.3,530.5 776.8,539.2" fill="#6c737a"/>
<circle cx="779.3" cy="532.0" r="1.25" fill="#8fd47a"/>
<circle cx="782.8" cy="529.3" r="1.25" fill="#8fd47a"/>
<polygon points="791.8,436.5 803.3,427.8 803.3,434.3 791.8,443.0" fill="#8f979f"/>
<polygon points="791.8,443.0 803.3,434.3 803.3,436.3 791.8,445.0" fill="#6c737a"/>
<circle cx="794.3" cy="437.8" r="1.25" fill="#8fd47a"/>
<circle cx="797.8" cy="435.2" r="1.25" fill="#8fd47a"/>
<polygon points="791.8,445.7 803.3,437.0 803.3,443.5 791.8,452.2" fill="#8f979f"/>
<polygon points="791.8,452.2 803.3,443.5 803.3,445.5 791.8,454.2" fill="#6c737a"/>
<circle cx="794.3" cy="447.0" r="1.25" fill="#8fd47a"/>
<circle cx="797.8" cy="444.4" r="1.25" fill="#8fd47a"/>
<polygon points="791.8,454.9 803.3,446.2 803.3,452.7 791.8,461.4" fill="#8f979f"/>
<polygon points="791.8,461.4 803.3,452.7 803.3,454.7 791.8,463.4" fill="#6c737a"/>
<circle cx="794.3" cy="456.2" r="1.25" fill="#8fd47a"/>
<circle cx="797.8" cy="453.6" r="1.25" fill="#8fd47a"/>
<polygon points="791.8,464.1 803.3,455.4 803.3,461.9 791.8,470.6" fill="#8f979f"/>
<polygon points="791.8,470.6 803.3,461.9 803.3,463.9 791.8,472.6" fill="#6c737a"/>
<circle cx="794.3" cy="465.4" r="1.25" fill="#8fd47a"/>
<circle cx="797.8" cy="462.8" r="1.25" fill="#8fd47a"/>
<polygon points="791.8,473.3 803.3,464.6 803.3,471.1 791.8,479.8" fill="#8f979f"/>
<polygon points="791.8,479.8 803.3,471.1 803.3,473.1 791.8,481.8" fill="#6c737a"/>
<circle cx="794.3" cy="474.6" r="1.25" fill="#8fd47a"/>
<circle cx="797.8" cy="472.0" r="1.25" fill="#8fd47a"/>
<polygon points="791.8,482.5 803.3,473.8 803.3,480.3 791.8,489.0" fill="#8f979f"/>
<polygon points="791.8,489.0 803.3,480.3 803.3,482.3 791.8,491.0" fill="#6c737a"/>
<circle cx="794.3" cy="483.8" r="1.25" fill="#8fd47a"/>
<circle cx="797.8" cy="481.2" r="1.25" fill="#8fd47a"/>
<polygon points="791.8,491.7 803.3,483.0 803.3,489.5 791.8,498.2" fill="#8f979f"/>
<polygon points="791.8,498.2 803.3,489.5 803.3,491.5 791.8,500.2" fill="#6c737a"/>
<circle cx="794.3" cy="493.0" r="1.25" fill="#8fd47a"/>
<circle cx="797.8" cy="490.4" r="1.25" fill="#8fd47a"/>
<polygon points="791.8,500.9 803.3,492.2 803.3,498.7 791.8,507.4" fill="#8f979f"/>
<polygon points="791.8,507.4 803.3,498.7 803.3,500.7 791.8,509.4" fill="#6c737a"/>
<circle cx="794.3" cy="502.2" r="1.25" fill="#8fd47a"/>
<circle cx="797.8" cy="499.6" r="1.25" fill="#8fd47a"/>
<polygon points="791.8,510.1 803.3,501.4 803.3,507.9 791.8,516.6" fill="#8f979f"/>
<polygon points="791.8,516.6 803.3,507.9 803.3,509.9 791.8,518.6" fill="#6c737a"/>
<circle cx="794.3" cy="511.4" r="1.25" fill="#8fd47a"/>
<circle cx="797.8" cy="508.8" r="1.25" fill="#8fd47a"/>
<polygon points="791.8,519.3 803.3,510.6 803.3,517.1 791.8,525.8" fill="#8f979f"/>
<polygon points="791.8,525.8 803.3,517.1 803.3,519.1 791.8,527.8" fill="#6c737a"/>
<circle cx="794.3" cy="520.6" r="1.25" fill="#8fd47a"/>
<circle cx="797.8" cy="518.0" r="1.25" fill="#8fd47a"/>
<polygon points="806.8,425.2 816.3,418.0 816.3,424.5 806.8,431.7" fill="#8f979f"/>
<polygon points="806.8,431.7 816.3,424.5 816.3,426.5 806.8,433.7" fill="#6c737a"/>
<circle cx="809.3" cy="426.5" r="1.25" fill="#8fd47a"/>
<circle cx="812.8" cy="423.8" r="1.25" fill="#8fd47a"/>
<polygon points="806.8,434.4 816.3,427.2 816.3,433.7 806.8,440.9" fill="#8f979f"/>
<polygon points="806.8,440.9 816.3,433.7 816.3,435.7 806.8,442.9" fill="#6c737a"/>
<circle cx="809.3" cy="435.7" r="1.25" fill="#8fd47a"/>
<circle cx="812.8" cy="433.0" r="1.25" fill="#8fd47a"/>
<polygon points="806.8,443.6 816.3,436.4 816.3,442.9 806.8,450.1" fill="#8f979f"/>
<polygon points="806.8,450.1 816.3,442.9 816.3,444.9 806.8,452.1" fill="#6c737a"/>
<circle cx="809.3" cy="444.9" r="1.25" fill="#8fd47a"/>
<circle cx="812.8" cy="442.2" r="1.25" fill="#8fd47a"/>
<polygon points="806.8,452.8 816.3,445.6 816.3,452.1 806.8,459.3" fill="#8f979f"/>
<polygon points="806.8,459.3 816.3,452.1 816.3,454.1 806.8,461.3" fill="#6c737a"/>
<circle cx="809.3" cy="454.1" r="1.25" fill="#8fd47a"/>
<circle cx="812.8" cy="451.4" r="1.25" fill="#8fd47a"/>
<polygon points="806.8,462.0 816.3,454.8 816.3,461.3 806.8,468.5" fill="#8f979f"/>
<polygon points="806.8,468.5 816.3,461.3 816.3,463.3 806.8,470.5" fill="#6c737a"/>
<circle cx="809.3" cy="463.3" r="1.25" fill="#8fd47a"/>
<circle cx="812.8" cy="460.6" r="1.25" fill="#8fd47a"/>
<polygon points="806.8,471.2 816.3,464.0 816.3,470.5 806.8,477.7" fill="#8f979f"/>
<polygon points="806.8,477.7 816.3,470.5 816.3,472.5 806.8,479.7" fill="#6c737a"/>
<circle cx="809.3" cy="472.5" r="1.25" fill="#8fd47a"/>
<circle cx="812.8" cy="469.8" r="1.25" fill="#8fd47a"/>
<polygon points="806.8,480.4 816.3,473.2 816.3,479.7 806.8,486.9" fill="#8f979f"/>
<polygon points="806.8,486.9 816.3,479.7 816.3,481.7 806.8,488.9" fill="#6c737a"/>
<circle cx="809.3" cy="481.7" r="1.25" fill="#8fd47a"/>
<circle cx="812.8" cy="479.0" r="1.25" fill="#8fd47a"/>
<polygon points="806.8,489.6 816.3,482.4 816.3,488.9 806.8,496.1" fill="#8f979f"/>
<polygon points="806.8,496.1 816.3,488.9 816.3,490.9 806.8,498.1" fill="#6c737a"/>
<circle cx="809.3" cy="490.9" r="1.25" fill="#8fd47a"/>
<circle cx="812.8" cy="488.2" r="1.25" fill="#8fd47a"/>
<polygon points="806.8,498.8 816.3,491.6 816.3,498.1 806.8,505.3" fill="#8f979f"/>
<polygon points="806.8,505.3 816.3,498.1 816.3,500.1 806.8,507.3" fill="#6c737a"/>
<circle cx="809.3" cy="500.1" r="1.25" fill="#8fd47a"/>
<circle cx="812.8" cy="497.4" r="1.25" fill="#8fd47a"/>
<polygon points="806.8,508.0 816.3,500.8 816.3,507.3 806.8,514.5" fill="#8f979f"/>
<polygon points="806.8,514.5 816.3,507.3 816.3,509.3 806.8,516.5" fill="#6c737a"/>
<circle cx="809.3" cy="509.3" r="1.25" fill="#8fd47a"/>
<circle cx="812.8" cy="506.6" r="1.25" fill="#8fd47a"/>
<polygon points="788.3,436.16 791.3,433.892 791.3,529.892 788.3,532.16" fill="#b4bcc3"/>
<polygon points="803.3,424.82 806.3,422.552 806.3,518.552 803.3,520.82" fill="#b4bcc3"/>
<polygon points="814.3,416.5 816.3,415.0 816.3,511.0 814.3,512.5" fill="#b0b8bf"/>
<rect x="742.3" y="447.5" width="31" height="96" fill="#b2bac2"/>
<rect x="770.8" y="447.5" width="3" height="96" fill="#ccd3d9"/>
<polygon points="773.3,447.5 776.3,445.232 776.3,541.232 773.3,543.5" fill="#c4cbd1"/>
<polygon points="742.3,447.5 773.3,447.5 816.3,415.0 816.3,417.0 774.3,449.0 742.3,449.0" fill="#cfd5db"/>
<circle cx="746.3" cy="452.5" r="1.1" fill="#8c949b"/>
<circle cx="766.3" cy="452.5" r="1.1" fill="#8c949b"/>
<circle cx="746.3" cy="538.5" r="1.1" fill="#8c949b"/>
<circle cx="766.3" cy="538.5" r="1.1" fill="#8c949b"/>
<polygon points="802.3,447.5 833.3,447.5 876.3,415.0 845.3,415.0" fill="#bac2c9"/>
<polygon points="833.3,447.5 876.3,415.0 876.3,511.0 833.3,543.5" fill="#959da5"/>
<polygon points="836.8,447.9 848.3,439.2 848.3,445.7 836.8,454.4" fill="#8f979f"/>
<polygon points="836.8,454.4 848.3,445.7 848.3,447.7 836.8,456.4" fill="#6c737a"/>
<circle cx="839.3" cy="449.2" r="1.25" fill="#8fd47a"/>
<circle cx="842.8" cy="446.5" r="1.25" fill="#8fd47a"/>
<polygon points="836.8,457.1 848.3,448.4 848.3,454.9 836.8,463.6" fill="#8f979f"/>
<polygon points="836.8,463.6 848.3,454.9 848.3,456.9 836.8,465.6" fill="#6c737a"/>
<circle cx="839.3" cy="458.4" r="1.25" fill="#8fd47a"/>
<circle cx="842.8" cy="455.7" r="1.25" fill="#8fd47a"/>
<polygon points="836.8,466.3 848.3,457.6 848.3,464.1 836.8,472.8" fill="#8f979f"/>
<polygon points="836.8,472.8 848.3,464.1 848.3,466.1 836.8,474.8" fill="#6c737a"/>
<circle cx="839.3" cy="467.6" r="1.25" fill="#8fd47a"/>
<circle cx="842.8" cy="464.9" r="1.25" fill="#8fd47a"/>
<polygon points="836.8,475.5 848.3,466.8 848.3,473.3 836.8,482.0" fill="#8f979f"/>
<polygon points="836.8,482.0 848.3,473.3 848.3,475.3 836.8,484.0" fill="#6c737a"/>
<circle cx="839.3" cy="476.8" r="1.25" fill="#8fd47a"/>
<circle cx="842.8" cy="474.1" r="1.25" fill="#8fd47a"/>
<polygon points="836.8,484.7 848.3,476.0 848.3,482.5 836.8,491.2" fill="#8f979f"/>
<polygon points="836.8,491.2 848.3,482.5 848.3,484.5 836.8,493.2" fill="#6c737a"/>
<circle cx="839.3" cy="486.0" r="1.25" fill="#8fd47a"/>
<circle cx="842.8" cy="483.3" r="1.25" fill="#8fd47a"/>
<polygon points="836.8,493.9 848.3,485.2 848.3,491.7 836.8,500.4" fill="#8f979f"/>
<polygon points="836.8,500.4 848.3,491.7 848.3,493.7 836.8,502.4" fill="#6c737a"/>
<circle cx="839.3" cy="495.2" r="1.25" fill="#8fd47a"/>
<circle cx="842.8" cy="492.5" r="1.25" fill="#8fd47a"/>
<polygon points="836.8,503.1 848.3,494.4 848.3,500.9 836.8,509.6" fill="#8f979f"/>
<polygon points="836.8,509.6 848.3,500.9 848.3,502.9 836.8,511.6" fill="#6c737a"/>
<circle cx="839.3" cy="504.4" r="1.25" fill="#8fd47a"/>
<circle cx="842.8" cy="501.7" r="1.25" fill="#8fd47a"/>
<polygon points="836.8,512.3 848.3,503.6 848.3,510.1 836.8,518.8" fill="#8f979f"/>
<polygon points="836.8,518.8 848.3,510.1 848.3,512.1 836.8,520.8" fill="#6c737a"/>
<circle cx="839.3" cy="513.6" r="1.25" fill="#8fd47a"/>
<circle cx="842.8" cy="510.9" r="1.25" fill="#8fd47a"/>
<polygon points="836.8,521.5 848.3,512.8 848.3,519.3 836.8,528.0" fill="#8f979f"/>
<polygon points="836.8,528.0 848.3,519.3 848.3,521.3 836.8,530.0" fill="#6c737a"/>
<circle cx="839.3" cy="522.8" r="1.25" fill="#8fd47a"/>
<circle cx="842.8" cy="520.1" r="1.25" fill="#8fd47a"/>
<polygon points="836.8,530.7 848.3,522.0 848.3,528.5 836.8,537.2" fill="#8f979f"/>
<polygon points="836.8,537.2 848.3,528.5 848.3,530.5 836.8,539.2" fill="#6c737a"/>
<circle cx="839.3" cy="532.0" r="1.25" fill="#8fd47a"/>
<circle cx="842.8" cy="529.3" r="1.25" fill="#8fd47a"/>
<polygon points="851.8,436.5 863.3,427.8 863.3,434.3 851.8,443.0" fill="#8f979f"/>
<polygon points="851.8,443.0 863.3,434.3 863.3,436.3 851.8,445.0" fill="#6c737a"/>
<circle cx="854.3" cy="437.8" r="1.25" fill="#8fd47a"/>
<circle cx="857.8" cy="435.2" r="1.25" fill="#8fd47a"/>
<polygon points="851.8,445.7 863.3,437.0 863.3,443.5 851.8,452.2" fill="#8f979f"/>
<polygon points="851.8,452.2 863.3,443.5 863.3,445.5 851.8,454.2" fill="#6c737a"/>
<circle cx="854.3" cy="447.0" r="1.25" fill="#8fd47a"/>
<circle cx="857.8" cy="444.4" r="1.25" fill="#8fd47a"/>
<polygon points="851.8,454.9 863.3,446.2 863.3,452.7 851.8,461.4" fill="#8f979f"/>
<polygon points="851.8,461.4 863.3,452.7 863.3,454.7 851.8,463.4" fill="#6c737a"/>
<circle cx="854.3" cy="456.2" r="1.25" fill="#8fd47a"/>
<circle cx="857.8" cy="453.6" r="1.25" fill="#8fd47a"/>
<polygon points="851.8,464.1 863.3,455.4 863.3,461.9 851.8,470.6" fill="#8f979f"/>
<polygon points="851.8,470.6 863.3,461.9 863.3,463.9 851.8,472.6" fill="#6c737a"/>
<circle cx="854.3" cy="465.4" r="1.25" fill="#8fd47a"/>
<circle cx="857.8" cy="462.8" r="1.25" fill="#8fd47a"/>
<polygon points="851.8,473.3 863.3,464.6 863.3,471.1 851.8,479.8" fill="#8f979f"/>
<polygon points="851.8,479.8 863.3,471.1 863.3,473.1 851.8,481.8" fill="#6c737a"/>
<circle cx="854.3" cy="474.6" r="1.25" fill="#8fd47a"/>
<circle cx="857.8" cy="472.0" r="1.25" fill="#8fd47a"/>
<polygon points="851.8,482.5 863.3,473.8 863.3,480.3 851.8,489.0" fill="#8f979f"/>
<polygon points="851.8,489.0 863.3,480.3 863.3,482.3 851.8,491.0" fill="#6c737a"/>
<circle cx="854.3" cy="483.8" r="1.25" fill="#8fd47a"/>
<circle cx="857.8" cy="481.2" r="1.25" fill="#8fd47a"/>
<polygon points="851.8,491.7 863.3,483.0 863.3,489.5 851.8,498.2" fill="#8f979f"/>
<polygon points="851.8,498.2 863.3,489.5 863.3,491.5 851.8,500.2" fill="#6c737a"/>
<circle cx="854.3" cy="493.0" r="1.25" fill="#8fd47a"/>
<circle cx="857.8" cy="490.4" r="1.25" fill="#8fd47a"/>
<polygon points="851.8,500.9 863.3,492.2 863.3,498.7 851.8,507.4" fill="#8f979f"/>
<polygon points="851.8,507.4 863.3,498.7 863.3,500.7 851.8,509.4" fill="#6c737a"/>
<circle cx="854.3" cy="502.2" r="1.25" fill="#8fd47a"/>
<circle cx="857.8" cy="499.6" r="1.25" fill="#8fd47a"/>
<polygon points="851.8,510.1 863.3,501.4 863.3,507.9 851.8,516.6" fill="#8f979f"/>
<polygon points="851.8,516.6 863.3,507.9 863.3,509.9 851.8,518.6" fill="#6c737a"/>
<circle cx="854.3" cy="511.4" r="1.25" fill="#8fd47a"/>
<circle cx="857.8" cy="508.8" r="1.25" fill="#8fd47a"/>
<polygon points="851.8,519.3 863.3,510.6 863.3,517.1 851.8,525.8" fill="#8f979f"/>
<polygon points="851.8,525.8 863.3,517.1 863.3,519.1 851.8,527.8" fill="#6c737a"/>
<circle cx="854.3" cy="520.6" r="1.25" fill="#8fd47a"/>
<circle cx="857.8" cy="518.0" r="1.25" fill="#8fd47a"/>
<polygon points="866.8,425.2 876.3,418.0 876.3,424.5 866.8,431.7" fill="#8f979f"/>
<polygon points="866.8,431.7 876.3,424.5 876.3,426.5 866.8,433.7" fill="#6c737a"/>
<circle cx="869.3" cy="426.5" r="1.25" fill="#8fd47a"/>
<circle cx="872.8" cy="423.8" r="1.25" fill="#8fd47a"/>
<polygon points="866.8,434.4 876.3,427.2 876.3,433.7 866.8,440.9" fill="#8f979f"/>
<polygon points="866.8,440.9 876.3,433.7 876.3,435.7 866.8,442.9" fill="#6c737a"/>
<circle cx="869.3" cy="435.7" r="1.25" fill="#8fd47a"/>
<circle cx="872.8" cy="433.0" r="1.25" fill="#8fd47a"/>
<polygon points="866.8,443.6 876.3,436.4 876.3,442.9 866.8,450.1" fill="#8f979f"/>
<polygon points="866.8,450.1 876.3,442.9 876.3,444.9 866.8,452.1" fill="#6c737a"/>
<circle cx="869.3" cy="444.9" r="1.25" fill="#8fd47a"/>
<circle cx="872.8" cy="442.2" r="1.25" fill="#8fd47a"/>
<polygon points="866.8,452.8 876.3,445.6 876.3,452.1 866.8,459.3" fill="#8f979f"/>
<polygon points="866.8,459.3 876.3,452.1 876.3,454.1 866.8,461.3" fill="#6c737a"/>
<circle cx="869.3" cy="454.1" r="1.25" fill="#8fd47a"/>
<circle cx="872.8" cy="451.4" r="1.25" fill="#8fd47a"/>
<polygon points="866.8,462.0 876.3,454.8 876.3,461.3 866.8,468.5" fill="#8f979f"/>
<polygon points="866.8,468.5 876.3,461.3 876.3,463.3 866.8,470.5" fill="#6c737a"/>
<circle cx="869.3" cy="463.3" r="1.25" fill="#8fd47a"/>
<circle cx="872.8" cy="460.6" r="1.25" fill="#8fd47a"/>
<polygon points="866.8,471.2 876.3,464.0 876.3,470.5 866.8,477.7" fill="#8f979f"/>
<polygon points="866.8,477.7 876.3,470.5 876.3,472.5 866.8,479.7" fill="#6c737a"/>
<circle cx="869.3" cy="472.5" r="1.25" fill="#8fd47a"/>
<circle cx="872.8" cy="469.8" r="1.25" fill="#8fd47a"/>
<polygon points="866.8,480.4 876.3,473.2 876.3,479.7 866.8,486.9" fill="#8f979f"/>
<polygon points="866.8,486.9 876.3,479.7 876.3,481.7 866.8,488.9" fill="#6c737a"/>
<circle cx="869.3" cy="481.7" r="1.25" fill="#8fd47a"/>
<circle cx="872.8" cy="479.0" r="1.25" fill="#8fd47a"/>
<polygon points="866.8,489.6 876.3,482.4 876.3,488.9 866.8,496.1" fill="#8f979f"/>
<polygon points="866.8,496.1 876.3,488.9 876.3,490.9 866.8,498.1" fill="#6c737a"/>
<circle cx="869.3" cy="490.9" r="1.25" fill="#8fd47a"/>
<circle cx="872.8" cy="488.2" r="1.25" fill="#8fd47a"/>
<polygon points="866.8,498.8 876.3,491.6 876.3,498.1 866.8,505.3" fill="#8f979f"/>
<polygon points="866.8,505.3 876.3,498.1 876.3,500.1 866.8,507.3" fill="#6c737a"/>
<circle cx="869.3" cy="500.1" r="1.25" fill="#8fd47a"/>
<circle cx="872.8" cy="497.4" r="1.25" fill="#8fd47a"/>
<polygon points="866.8,508.0 876.3,500.8 876.3,507.3 866.8,514.5" fill="#8f979f"/>
<polygon points="866.8,514.5 876.3,507.3 876.3,509.3 866.8,516.5" fill="#6c737a"/>
<circle cx="869.3" cy="509.3" r="1.25" fill="#8fd47a"/>
<circle cx="872.8" cy="506.6" r="1.25" fill="#8fd47a"/>
<polygon points="848.3,436.16 851.3,433.892 851.3,529.892 848.3,532.16" fill="#b4bcc3"/>
<polygon points="863.3,424.82 866.3,422.552 866.3,518.552 863.3,520.82" fill="#b4bcc3"/>
<polygon points="874.3,416.5 876.3,415.0 876.3,511.0 874.3,512.5" fill="#b0b8bf"/>
<rect x="802.3" y="447.5" width="31" height="96" fill="#b2bac2"/>
<rect x="830.8" y="447.5" width="3" height="96" fill="#ccd3d9"/>
<polygon points="833.3,447.5 836.3,445.232 836.3,541.232 833.3,543.5" fill="#c4cbd1"/>
<polygon points="802.3,447.5 833.3,447.5 876.3,415.0 876.3,417.0 834.3,449.0 802.3,449.0" fill="#cfd5db"/>
<circle cx="806.3" cy="452.5" r="1.1" fill="#8c949b"/>
<circle cx="826.3" cy="452.5" r="1.1" fill="#8c949b"/>
<circle cx="806.3" cy="538.5" r="1.1" fill="#8c949b"/>
<circle cx="826.3" cy="538.5" r="1.1" fill="#8c949b"/>
<polygon points="1040.8,204.8 1071.8,204.8 1114.8,172.3 1083.8,172.3" fill="#bac2c9"/>
<polygon points="1071.8,204.8 1114.8,172.3 1114.8,268.3 1071.8,300.8" fill="#959da5"/>
<polygon points="1075.3,205.2 1086.8,196.5 1086.8,203.0 1075.3,211.7" fill="#8f979f"/>
<polygon points="1075.3,211.7 1086.8,203.0 1086.8,205.0 1075.3,213.7" fill="#6c737a"/>
<circle cx="1077.8" cy="206.5" r="1.25" fill="#8fd47a"/>
<circle cx="1081.3" cy="203.8" r="1.25" fill="#8fd47a"/>
<polygon points="1075.3,214.4 1086.8,205.7 1086.8,212.2 1075.3,220.9" fill="#8f979f"/>
<polygon points="1075.3,220.9 1086.8,212.2 1086.8,214.2 1075.3,222.9" fill="#6c737a"/>
<circle cx="1077.8" cy="215.7" r="1.25" fill="#8fd47a"/>
<circle cx="1081.3" cy="213.0" r="1.25" fill="#8fd47a"/>
<polygon points="1075.3,223.6 1086.8,214.9 1086.8,221.4 1075.3,230.1" fill="#8f979f"/>
<polygon points="1075.3,230.1 1086.8,221.4 1086.8,223.4 1075.3,232.1" fill="#6c737a"/>
<circle cx="1077.8" cy="224.9" r="1.25" fill="#8fd47a"/>
<circle cx="1081.3" cy="222.2" r="1.25" fill="#8fd47a"/>
<polygon points="1075.3,232.8 1086.8,224.1 1086.8,230.6 1075.3,239.3" fill="#8f979f"/>
<polygon points="1075.3,239.3 1086.8,230.6 1086.8,232.6 1075.3,241.3" fill="#6c737a"/>
<circle cx="1077.8" cy="234.1" r="1.25" fill="#8fd47a"/>
<circle cx="1081.3" cy="231.4" r="1.25" fill="#8fd47a"/>
<polygon points="1075.3,242.0 1086.8,233.3 1086.8,239.8 1075.3,248.5" fill="#8f979f"/>
<polygon points="1075.3,248.5 1086.8,239.8 1086.8,241.8 1075.3,250.5" fill="#6c737a"/>
<circle cx="1077.8" cy="243.3" r="1.25" fill="#8fd47a"/>
<circle cx="1081.3" cy="240.6" r="1.25" fill="#8fd47a"/>
<polygon points="1075.3,251.2 1086.8,242.5 1086.8,249.0 1075.3,257.7" fill="#8f979f"/>
<polygon points="1075.3,257.7 1086.8,249.0 1086.8,251.0 1075.3,259.7" fill="#6c737a"/>
<circle cx="1077.8" cy="252.5" r="1.25" fill="#8fd47a"/>
<circle cx="1081.3" cy="249.8" r="1.25" fill="#8fd47a"/>
<polygon points="1075.3,260.4 1086.8,251.7 1086.8,258.2 1075.3,266.9" fill="#8f979f"/>
<polygon points="1075.3,266.9 1086.8,258.2 1086.8,260.2 1075.3,268.9" fill="#6c737a"/>
<circle cx="1077.8" cy="261.7" r="1.25" fill="#8fd47a"/>
<circle cx="1081.3" cy="259.0" r="1.25" fill="#8fd47a"/>
<polygon points="1075.3,269.6 1086.8,260.9 1086.8,267.4 1075.3,276.1" fill="#8f979f"/>
<polygon points="1075.3,276.1 1086.8,267.4 1086.8,269.4 1075.3,278.1" fill="#6c737a"/>
<circle cx="1077.8" cy="270.9" r="1.25" fill="#8fd47a"/>
<circle cx="1081.3" cy="268.2" r="1.25" fill="#8fd47a"/>
<polygon points="1075.3,278.8 1086.8,270.1 1086.8,276.6 1075.3,285.3" fill="#8f979f"/>
<polygon points="1075.3,285.3 1086.8,276.6 1086.8,278.6 1075.3,287.3" fill="#6c737a"/>
<circle cx="1077.8" cy="280.1" r="1.25" fill="#8fd47a"/>
<circle cx="1081.3" cy="277.4" r="1.25" fill="#8fd47a"/>
<polygon points="1075.3,288.0 1086.8,279.3 1086.8,285.8 1075.3,294.5" fill="#8f979f"/>
<polygon points="1075.3,294.5 1086.8,285.8 1086.8,287.8 1075.3,296.5" fill="#6c737a"/>
<circle cx="1077.8" cy="289.3" r="1.25" fill="#8fd47a"/>
<circle cx="1081.3" cy="286.6" r="1.25" fill="#8fd47a"/>
<polygon points="1090.3,193.8 1101.8,185.1 1101.8,191.6 1090.3,200.3" fill="#8f979f"/>
<polygon points="1090.3,200.3 1101.8,191.6 1101.8,193.6 1090.3,202.3" fill="#6c737a"/>
<circle cx="1092.8" cy="195.1" r="1.25" fill="#8fd47a"/>
<circle cx="1096.3" cy="192.5" r="1.25" fill="#8fd47a"/>
<polygon points="1090.3,203.0 1101.8,194.3 1101.8,200.8 1090.3,209.5" fill="#8f979f"/>
<polygon points="1090.3,209.5 1101.8,200.8 1101.8,202.8 1090.3,211.5" fill="#6c737a"/>
<circle cx="1092.8" cy="204.3" r="1.25" fill="#8fd47a"/>
<circle cx="1096.3" cy="201.7" r="1.25" fill="#8fd47a"/>
<polygon points="1090.3,212.2 1101.8,203.5 1101.8,210.0 1090.3,218.7" fill="#8f979f"/>
<polygon points="1090.3,218.7 1101.8,210.0 1101.8,212.0 1090.3,220.7" fill="#6c737a"/>
<circle cx="1092.8" cy="213.5" r="1.25" fill="#8fd47a"/>
<circle cx="1096.3" cy="210.9" r="1.25" fill="#8fd47a"/>
<polygon points="1090.3,221.4 1101.8,212.7 1101.8,219.2 1090.3,227.9" fill="#8f979f"/>
<polygon points="1090.3,227.9 1101.8,219.2 1101.8,221.2 1090.3,229.9" fill="#6c737a"/>
<circle cx="1092.8" cy="222.7" r="1.25" fill="#8fd47a"/>
<circle cx="1096.3" cy="220.1" r="1.25" fill="#8fd47a"/>
<polygon points="1090.3,230.6 1101.8,221.9 1101.8,228.4 1090.3,237.1" fill="#8f979f"/>
<polygon points="1090.3,237.1 1101.8,228.4 1101.8,230.4 1090.3,239.1" fill="#6c737a"/>
<circle cx="1092.8" cy="231.9" r="1.25" fill="#8fd47a"/>
<circle cx="1096.3" cy="229.3" r="1.25" fill="#8fd47a"/>
<polygon points="1090.3,239.8 1101.8,231.1 1101.8,237.6 1090.3,246.3" fill="#8f979f"/>
<polygon points="1090.3,246.3 1101.8,237.6 1101.8,239.6 1090.3,248.3" fill="#6c737a"/>
<circle cx="1092.8" cy="241.1" r="1.25" fill="#8fd47a"/>
<circle cx="1096.3" cy="238.5" r="1.25" fill="#8fd47a"/>
<polygon points="1090.3,249.0 1101.8,240.3 1101.8,246.8 1090.3,255.5" fill="#8f979f"/>
<polygon points="1090.3,255.5 1101.8,246.8 1101.8,248.8 1090.3,257.5" fill="#6c737a"/>
<circle cx="1092.8" cy="250.3" r="1.25" fill="#8fd47a"/>
<circle cx="1096.3" cy="247.7" r="1.25" fill="#8fd47a"/>
<polygon points="1090.3,258.2 1101.8,249.5 1101.8,256.0 1090.3,264.7" fill="#8f979f"/>
<polygon points="1090.3,264.7 1101.8,256.0 1101.8,258.0 1090.3,266.7" fill="#6c737a"/>
<circle cx="1092.8" cy="259.5" r="1.25" fill="#8fd47a"/>
<circle cx="1096.3" cy="256.9" r="1.25" fill="#8fd47a"/>
<polygon points="1090.3,267.4 1101.8,258.7 1101.8,265.2 1090.3,273.9" fill="#8f979f"/>
<polygon points="1090.3,273.9 1101.8,265.2 1101.8,267.2 1090.3,275.9" fill="#6c737a"/>
<circle cx="1092.8" cy="268.7" r="1.25" fill="#8fd47a"/>
<circle cx="1096.3" cy="266.1" r="1.25" fill="#8fd47a"/>
<polygon points="1090.3,276.6 1101.8,267.9 1101.8,274.4 1090.3,283.1" fill="#8f979f"/>
<polygon points="1090.3,283.1 1101.8,274.4 1101.8,276.4 1090.3,285.1" fill="#6c737a"/>
<circle cx="1092.8" cy="277.9" r="1.25" fill="#8fd47a"/>
<circle cx="1096.3" cy="275.3" r="1.25" fill="#8fd47a"/>
<polygon points="1105.3,182.5 1114.8,175.3 1114.8,181.8 1105.3,189.0" fill="#8f979f"/>
<polygon points="1105.3,189.0 1114.8,181.8 1114.8,183.8 1105.3,191.0" fill="#6c737a"/>
<circle cx="1107.8" cy="183.8" r="1.25" fill="#8fd47a"/>
<circle cx="1111.3" cy="181.1" r="1.25" fill="#8fd47a"/>
<polygon points="1105.3,191.7 1114.8,184.5 1114.8,191.0 1105.3,198.2" fill="#8f979f"/>
<polygon points="1105.3,198.2 1114.8,191.0 1114.8,193.0 1105.3,200.2" fill="#6c737a"/>
<circle cx="1107.8" cy="193.0" r="1.25" fill="#8fd47a"/>
<circle cx="1111.3" cy="190.3" r="1.25" fill="#8fd47a"/>
<polygon points="1105.3,200.9 1114.8,193.7 1114.8,200.2 1105.3,207.4" fill="#8f979f"/>
<polygon points="1105.3,207.4 1114.8,200.2 1114.8,202.2 1105.3,209.4" fill="#6c737a"/>
<circle cx="1107.8" cy="202.2" r="1.25" fill="#8fd47a"/>
<circle cx="1111.3" cy="199.5" r="1.25" fill="#8fd47a"/>
<polygon points="1105.3,210.1 1114.8,202.9 1114.8,209.4 1105.3,216.6" fill="#8f979f"/>
<polygon points="1105.3,216.6 1114.8,209.4 1114.8,211.4 1105.3,218.6" fill="#6c737a"/>
<circle cx="1107.8" cy="211.4" r="1.25" fill="#8fd47a"/>
<circle cx="1111.3" cy="208.7" r="1.25" fill="#8fd47a"/>
<polygon points="1105.3,219.3 1114.8,212.1 1114.8,218.6 1105.3,225.8" fill="#8f979f"/>
<polygon points="1105.3,225.8 1114.8,218.6 1114.8,220.6 1105.3,227.8" fill="#6c737a"/>
<circle cx="1107.8" cy="220.6" r="1.25" fill="#8fd47a"/>
<circle cx="1111.3" cy="217.9" r="1.25" fill="#8fd47a"/>
<polygon points="1105.3,228.5 1114.8,221.3 1114.8,227.8 1105.3,235.0" fill="#8f979f"/>
<polygon points="1105.3,235.0 1114.8,227.8 1114.8,229.8 1105.3,237.0" fill="#6c737a"/>
<circle cx="1107.8" cy="229.8" r="1.25" fill="#8fd47a"/>
<circle cx="1111.3" cy="227.1" r="1.25" fill="#8fd47a"/>
<polygon points="1105.3,237.7 1114.8,230.5 1114.8,237.0 1105.3,244.2" fill="#8f979f"/>
<polygon points="1105.3,244.2 1114.8,237.0 1114.8,239.0 1105.3,246.2" fill="#6c737a"/>
<circle cx="1107.8" cy="239.0" r="1.25" fill="#8fd47a"/>
<circle cx="1111.3" cy="236.3" r="1.25" fill="#8fd47a"/>
<polygon points="1105.3,246.9 1114.8,239.7 1114.8,246.2 1105.3,253.4" fill="#8f979f"/>
<polygon points="1105.3,253.4 1114.8,246.2 1114.8,248.2 1105.3,255.4" fill="#6c737a"/>
<circle cx="1107.8" cy="248.2" r="1.25" fill="#8fd47a"/>
<circle cx="1111.3" cy="245.5" r="1.25" fill="#8fd47a"/>
<polygon points="1105.3,256.1 1114.8,248.9 1114.8,255.4 1105.3,262.6" fill="#8f979f"/>
<polygon points="1105.3,262.6 1114.8,255.4 1114.8,257.4 1105.3,264.6" fill="#6c737a"/>
<circle cx="1107.8" cy="257.4" r="1.25" fill="#8fd47a"/>
<circle cx="1111.3" cy="254.7" r="1.25" fill="#8fd47a"/>
<polygon points="1105.3,265.3 1114.8,258.1 1114.8,264.6 1105.3,271.8" fill="#8f979f"/>
<polygon points="1105.3,271.8 1114.8,264.6 1114.8,266.6 1105.3,273.8" fill="#6c737a"/>
<circle cx="1107.8" cy="266.6" r="1.25" fill="#8fd47a"/>
<circle cx="1111.3" cy="263.9" r="1.25" fill="#8fd47a"/>
<polygon points="1086.8,193.46 1089.8,191.192 1089.8,287.192 1086.8,289.46000000000004" fill="#b4bcc3"/>
<polygon points="1101.8,182.12 1104.8,179.852 1104.8,275.85200000000003 1101.8,278.12" fill="#b4bcc3"/>
<polygon points="1112.8,173.8 1114.8,172.3 1114.8,268.3 1112.8,269.8" fill="#b0b8bf"/>
<rect x="1040.8" y="204.8" width="31" height="96" fill="#b2bac2"/>
<rect x="1069.3" y="204.8" width="3" height="96" fill="#ccd3d9"/>
<polygon points="1071.8,204.8 1074.8,202.532 1074.8,298.53200000000004 1071.8,300.8" fill="#c4cbd1"/>
<polygon points="1040.8,204.8 1071.8,204.8 1114.8,172.3 1114.8,174.3 1072.8,206.3 1040.8,206.3" fill="#cfd5db"/>
<circle cx="1044.8" cy="209.8" r="1.1" fill="#8c949b"/>
<circle cx="1064.8" cy="209.8" r="1.1" fill="#8c949b"/>
<circle cx="1044.8" cy="295.8" r="1.1" fill="#8c949b"/>
<circle cx="1064.8" cy="295.8" r="1.1" fill="#8c949b"/>
<polygon points="1100.8,204.8 1131.8,204.8 1174.8,172.3 1143.8,172.3" fill="#bac2c9"/>
<polygon points="1131.8,204.8 1174.8,172.3 1174.8,268.3 1131.8,300.8" fill="#959da5"/>
<polygon points="1135.3,205.2 1146.8,196.5 1146.8,203.0 1135.3,211.7" fill="#8f979f"/>
<polygon points="1135.3,211.7 1146.8,203.0 1146.8,205.0 1135.3,213.7" fill="#6c737a"/>
<circle cx="1137.8" cy="206.5" r="1.25" fill="#8fd47a"/>
<circle cx="1141.3" cy="203.8" r="1.25" fill="#8fd47a"/>
<polygon points="1135.3,214.4 1146.8,205.7 1146.8,212.2 1135.3,220.9" fill="#8f979f"/>
<polygon points="1135.3,220.9 1146.8,212.2 1146.8,214.2 1135.3,222.9" fill="#6c737a"/>
<circle cx="1137.8" cy="215.7" r="1.25" fill="#8fd47a"/>
<circle cx="1141.3" cy="213.0" r="1.25" fill="#8fd47a"/>
<polygon points="1135.3,223.6 1146.8,214.9 1146.8,221.4 1135.3,230.1" fill="#8f979f"/>
<polygon points="1135.3,230.1 1146.8,221.4 1146.8,223.4 1135.3,232.1" fill="#6c737a"/>
<circle cx="1137.8" cy="224.9" r="1.25" fill="#8fd47a"/>
<circle cx="1141.3" cy="222.2" r="1.25" fill="#8fd47a"/>
<polygon points="1135.3,232.8 1146.8,224.1 1146.8,230.6 1135.3,239.3" fill="#8f979f"/>
<polygon points="1135.3,239.3 1146.8,230.6 1146.8,232.6 1135.3,241.3" fill="#6c737a"/>
<circle cx="1137.8" cy="234.1" r="1.25" fill="#8fd47a"/>
<circle cx="1141.3" cy="231.4" r="1.25" fill="#8fd47a"/>
<polygon points="1135.3,242.0 1146.8,233.3 1146.8,239.8 1135.3,248.5" fill="#8f979f"/>
<polygon points="1135.3,248.5 1146.8,239.8 1146.8,241.8 1135.3,250.5" fill="#6c737a"/>
<circle cx="1137.8" cy="243.3" r="1.25" fill="#8fd47a"/>
<circle cx="1141.3" cy="240.6" r="1.25" fill="#8fd47a"/>
<polygon points="1135.3,251.2 1146.8,242.5 1146.8,249.0 1135.3,257.7" fill="#8f979f"/>
<polygon points="1135.3,257.7 1146.8,249.0 1146.8,251.0 1135.3,259.7" fill="#6c737a"/>
<circle cx="1137.8" cy="252.5" r="1.25" fill="#8fd47a"/>
<circle cx="1141.3" cy="249.8" r="1.25" fill="#8fd47a"/>
<polygon points="1135.3,260.4 1146.8,251.7 1146.8,258.2 1135.3,266.9" fill="#8f979f"/>
<polygon points="1135.3,266.9 1146.8,258.2 1146.8,260.2 1135.3,268.9" fill="#6c737a"/>
<circle cx="1137.8" cy="261.7" r="1.25" fill="#8fd47a"/>
<circle cx="1141.3" cy="259.0" r="1.25" fill="#8fd47a"/>
<polygon points="1135.3,269.6 1146.8,260.9 1146.8,267.4 1135.3,276.1" fill="#8f979f"/>
<polygon points="1135.3,276.1 1146.8,267.4 1146.8,269.4 1135.3,278.1" fill="#6c737a"/>
<circle cx="1137.8" cy="270.9" r="1.25" fill="#8fd47a"/>
<circle cx="1141.3" cy="268.2" r="1.25" fill="#8fd47a"/>
<polygon points="1135.3,278.8 1146.8,270.1 1146.8,276.6 1135.3,285.3" fill="#8f979f"/>
<polygon points="1135.3,285.3 1146.8,276.6 1146.8,278.6 1135.3,287.3" fill="#6c737a"/>
<circle cx="1137.8" cy="280.1" r="1.25" fill="#8fd47a"/>
<circle cx="1141.3" cy="277.4" r="1.25" fill="#8fd47a"/>
<polygon points="1135.3,288.0 1146.8,279.3 1146.8,285.8 1135.3,294.5" fill="#8f979f"/>
<polygon points="1135.3,294.5 1146.8,285.8 1146.8,287.8 1135.3,296.5" fill="#6c737a"/>
<circle cx="1137.8" cy="289.3" r="1.25" fill="#8fd47a"/>
<circle cx="1141.3" cy="286.6" r="1.25" fill="#8fd47a"/>
<polygon points="1150.3,193.8 1161.8,185.1 1161.8,191.6 1150.3,200.3" fill="#8f979f"/>
<polygon points="1150.3,200.3 1161.8,191.6 1161.8,193.6 1150.3,202.3" fill="#6c737a"/>
<circle cx="1152.8" cy="195.1" r="1.25" fill="#8fd47a"/>
<circle cx="1156.3" cy="192.5" r="1.25" fill="#8fd47a"/>
<polygon points="1150.3,203.0 1161.8,194.3 1161.8,200.8 1150.3,209.5" fill="#8f979f"/>
<polygon points="1150.3,209.5 1161.8,200.8 1161.8,202.8 1150.3,211.5" fill="#6c737a"/>
<circle cx="1152.8" cy="204.3" r="1.25" fill="#8fd47a"/>
<circle cx="1156.3" cy="201.7" r="1.25" fill="#8fd47a"/>
<polygon points="1150.3,212.2 1161.8,203.5 1161.8,210.0 1150.3,218.7" fill="#8f979f"/>
<polygon points="1150.3,218.7 1161.8,210.0 1161.8,212.0 1150.3,220.7" fill="#6c737a"/>
<circle cx="1152.8" cy="213.5" r="1.25" fill="#8fd47a"/>
<circle cx="1156.3" cy="210.9" r="1.25" fill="#8fd47a"/>
<polygon points="1150.3,221.4 1161.8,212.7 1161.8,219.2 1150.3,227.9" fill="#8f979f"/>
<polygon points="1150.3,227.9 1161.8,219.2 1161.8,221.2 1150.3,229.9" fill="#6c737a"/>
<circle cx="1152.8" cy="222.7" r="1.25" fill="#8fd47a"/>
<circle cx="1156.3" cy="220.1" r="1.25" fill="#8fd47a"/>
<polygon points="1150.3,230.6 1161.8,221.9 1161.8,228.4 1150.3,237.1" fill="#8f979f"/>
<polygon points="1150.3,237.1 1161.8,228.4 1161.8,230.4 1150.3,239.1" fill="#6c737a"/>
<circle cx="1152.8" cy="231.9" r="1.25" fill="#8fd47a"/>
<circle cx="1156.3" cy="229.3" r="1.25" fill="#8fd47a"/>
<polygon points="1150.3,239.8 1161.8,231.1 1161.8,237.6 1150.3,246.3" fill="#8f979f"/>
<polygon points="1150.3,246.3 1161.8,237.6 1161.8,239.6 1150.3,248.3" fill="#6c737a"/>
<circle cx="1152.8" cy="241.1" r="1.25" fill="#8fd47a"/>
<circle cx="1156.3" cy="238.5" r="1.25" fill="#8fd47a"/>
<polygon points="1150.3,249.0 1161.8,240.3 1161.8,246.8 1150.3,255.5" fill="#8f979f"/>
<polygon points="1150.3,255.5 1161.8,246.8 1161.8,248.8 1150.3,257.5" fill="#6c737a"/>
<circle cx="1152.8" cy="250.3" r="1.25" fill="#8fd47a"/>
<circle cx="1156.3" cy="247.7" r="1.25" fill="#8fd47a"/>
<polygon points="1150.3,258.2 1161.8,249.5 1161.8,256.0 1150.3,264.7" fill="#8f979f"/>
<polygon points="1150.3,264.7 1161.8,256.0 1161.8,258.0 1150.3,266.7" fill="#6c737a"/>
<circle cx="1152.8" cy="259.5" r="1.25" fill="#8fd47a"/>
<circle cx="1156.3" cy="256.9" r="1.25" fill="#8fd47a"/>
<polygon points="1150.3,267.4 1161.8,258.7 1161.8,265.2 1150.3,273.9" fill="#8f979f"/>
<polygon points="1150.3,273.9 1161.8,265.2 1161.8,267.2 1150.3,275.9" fill="#6c737a"/>
<circle cx="1152.8" cy="268.7" r="1.25" fill="#8fd47a"/>
<circle cx="1156.3" cy="266.1" r="1.25" fill="#8fd47a"/>
<polygon points="1150.3,276.6 1161.8,267.9 1161.8,274.4 1150.3,283.1" fill="#8f979f"/>
<polygon points="1150.3,283.1 1161.8,274.4 1161.8,276.4 1150.3,285.1" fill="#6c737a"/>
<circle cx="1152.8" cy="277.9" r="1.25" fill="#8fd47a"/>
<circle cx="1156.3" cy="275.3" r="1.25" fill="#8fd47a"/>
<polygon points="1165.3,182.5 1174.8,175.3 1174.8,181.8 1165.3,189.0" fill="#8f979f"/>
<polygon points="1165.3,189.0 1174.8,181.8 1174.8,183.8 1165.3,191.0" fill="#6c737a"/>
<circle cx="1167.8" cy="183.8" r="1.25" fill="#8fd47a"/>
<circle cx="1171.3" cy="181.1" r="1.25" fill="#8fd47a"/>
<polygon points="1165.3,191.7 1174.8,184.5 1174.8,191.0 1165.3,198.2" fill="#8f979f"/>
<polygon points="1165.3,198.2 1174.8,191.0 1174.8,193.0 1165.3,200.2" fill="#6c737a"/>
<circle cx="1167.8" cy="193.0" r="1.25" fill="#8fd47a"/>
<circle cx="1171.3" cy="190.3" r="1.25" fill="#8fd47a"/>
<polygon points="1165.3,200.9 1174.8,193.7 1174.8,200.2 1165.3,207.4" fill="#8f979f"/>
<polygon points="1165.3,207.4 1174.8,200.2 1174.8,202.2 1165.3,209.4" fill="#6c737a"/>
<circle cx="1167.8" cy="202.2" r="1.25" fill="#8fd47a"/>
<circle cx="1171.3" cy="199.5" r="1.25" fill="#8fd47a"/>
<polygon points="1165.3,210.1 1174.8,202.9 1174.8,209.4 1165.3,216.6" fill="#8f979f"/>
<polygon points="1165.3,216.6 1174.8,209.4 1174.8,211.4 1165.3,218.6" fill="#6c737a"/>
<circle cx="1167.8" cy="211.4" r="1.25" fill="#8fd47a"/>
<circle cx="1171.3" cy="208.7" r="1.25" fill="#8fd47a"/>
<polygon points="1165.3,219.3 1174.8,212.1 1174.8,218.6 1165.3,225.8" fill="#8f979f"/>
<polygon points="1165.3,225.8 1174.8,218.6 1174.8,220.6 1165.3,227.8" fill="#6c737a"/>
<circle cx="1167.8" cy="220.6" r="1.25" fill="#8fd47a"/>
<circle cx="1171.3" cy="217.9" r="1.25" fill="#8fd47a"/>
<polygon points="1165.3,228.5 1174.8,221.3 1174.8,227.8 1165.3,235.0" fill="#8f979f"/>
<polygon points="1165.3,235.0 1174.8,227.8 1174.8,229.8 1165.3,237.0" fill="#6c737a"/>
<circle cx="1167.8" cy="229.8" r="1.25" fill="#8fd47a"/>
<circle cx="1171.3" cy="227.1" r="1.25" fill="#8fd47a"/>
<polygon points="1165.3,237.7 1174.8,230.5 1174.8,237.0 1165.3,244.2" fill="#8f979f"/>
<polygon points="1165.3,244.2 1174.8,237.0 1174.8,239.0 1165.3,246.2" fill="#6c737a"/>
<circle cx="1167.8" cy="239.0" r="1.25" fill="#8fd47a"/>
<circle cx="1171.3" cy="236.3" r="1.25" fill="#8fd47a"/>
<polygon points="1165.3,246.9 1174.8,239.7 1174.8,246.2 1165.3,253.4" fill="#8f979f"/>
<polygon points="1165.3,253.4 1174.8,246.2 1174.8,248.2 1165.3,255.4" fill="#6c737a"/>
<circle cx="1167.8" cy="248.2" r="1.25" fill="#8fd47a"/>
<circle cx="1171.3" cy="245.5" r="1.25" fill="#8fd47a"/>
<polygon points="1165.3,256.1 1174.8,248.9 1174.8,255.4 1165.3,262.6" fill="#8f979f"/>
<polygon points="1165.3,262.6 1174.8,255.4 1174.8,257.4 1165.3,264.6" fill="#6c737a"/>
<circle cx="1167.8" cy="257.4" r="1.25" fill="#8fd47a"/>
<circle cx="1171.3" cy="254.7" r="1.25" fill="#8fd47a"/>
<polygon points="1165.3,265.3 1174.8,258.1 1174.8,264.6 1165.3,271.8" fill="#8f979f"/>
<polygon points="1165.3,271.8 1174.8,264.6 1174.8,266.6 1165.3,273.8" fill="#6c737a"/>
<circle cx="1167.8" cy="266.6" r="1.25" fill="#8fd47a"/>
<circle cx="1171.3" cy="263.9" r="1.25" fill="#8fd47a"/>
<polygon points="1146.8,193.46 1149.8,191.192 1149.8,287.192 1146.8,289.46000000000004" fill="#b4bcc3"/>
<polygon points="1161.8,182.12 1164.8,179.852 1164.8,275.85200000000003 1161.8,278.12" fill="#b4bcc3"/>
<polygon points="1172.8,173.8 1174.8,172.3 1174.8,268.3 1172.8,269.8" fill="#b0b8bf"/>
<rect x="1100.8" y="204.8" width="31" height="96" fill="#b2bac2"/>
<rect x="1129.3" y="204.8" width="3" height="96" fill="#ccd3d9"/>
<polygon points="1131.8,204.8 1134.8,202.532 1134.8,298.53200000000004 1131.8,300.8" fill="#c4cbd1"/>
<polygon points="1100.8,204.8 1131.8,204.8 1174.8,172.3 1174.8,174.3 1132.8,206.3 1100.8,206.3" fill="#cfd5db"/>
<circle cx="1104.8" cy="209.8" r="1.1" fill="#8c949b"/>
<circle cx="1124.8" cy="209.8" r="1.1" fill="#8c949b"/>
<circle cx="1104.8" cy="295.8" r="1.1" fill="#8c949b"/>
<circle cx="1124.8" cy="295.8" r="1.1" fill="#8c949b"/>
<polygon points="1160.8,204.8 1191.8,204.8 1234.8,172.3 1203.8,172.3" fill="#bac2c9"/>
<polygon points="1191.8,204.8 1234.8,172.3 1234.8,268.3 1191.8,300.8" fill="#959da5"/>
<polygon points="1195.3,205.2 1206.8,196.5 1206.8,203.0 1195.3,211.7" fill="#8f979f"/>
<polygon points="1195.3,211.7 1206.8,203.0 1206.8,205.0 1195.3,213.7" fill="#6c737a"/>
<circle cx="1197.8" cy="206.5" r="1.25" fill="#8fd47a"/>
<circle cx="1201.3" cy="203.8" r="1.25" fill="#8fd47a"/>
<polygon points="1195.3,214.4 1206.8,205.7 1206.8,212.2 1195.3,220.9" fill="#8f979f"/>
<polygon points="1195.3,220.9 1206.8,212.2 1206.8,214.2 1195.3,222.9" fill="#6c737a"/>
<circle cx="1197.8" cy="215.7" r="1.25" fill="#8fd47a"/>
<circle cx="1201.3" cy="213.0" r="1.25" fill="#8fd47a"/>
<polygon points="1195.3,223.6 1206.8,214.9 1206.8,221.4 1195.3,230.1" fill="#8f979f"/>
<polygon points="1195.3,230.1 1206.8,221.4 1206.8,223.4 1195.3,232.1" fill="#6c737a"/>
<circle cx="1197.8" cy="224.9" r="1.25" fill="#8fd47a"/>
<circle cx="1201.3" cy="222.2" r="1.25" fill="#8fd47a"/>
<polygon points="1195.3,232.8 1206.8,224.1 1206.8,230.6 1195.3,239.3" fill="#8f979f"/>
<polygon points="1195.3,239.3 1206.8,230.6 1206.8,232.6 1195.3,241.3" fill="#6c737a"/>
<circle cx="1197.8" cy="234.1" r="1.25" fill="#8fd47a"/>
<circle cx="1201.3" cy="231.4" r="1.25" fill="#8fd47a"/>
<polygon points="1195.3,242.0 1206.8,233.3 1206.8,239.8 1195.3,248.5" fill="#8f979f"/>
<polygon points="1195.3,248.5 1206.8,239.8 1206.8,241.8 1195.3,250.5" fill="#6c737a"/>
<circle cx="1197.8" cy="243.3" r="1.25" fill="#8fd47a"/>
<circle cx="1201.3" cy="240.6" r="1.25" fill="#8fd47a"/>
<polygon points="1195.3,251.2 1206.8,242.5 1206.8,249.0 1195.3,257.7" fill="#8f979f"/>
<polygon points="1195.3,257.7 1206.8,249.0 1206.8,251.0 1195.3,259.7" fill="#6c737a"/>
<circle cx="1197.8" cy="252.5" r="1.25" fill="#8fd47a"/>
<circle cx="1201.3" cy="249.8" r="1.25" fill="#8fd47a"/>
<polygon points="1195.3,260.4 1206.8,251.7 1206.8,258.2 1195.3,266.9" fill="#8f979f"/>
<polygon points="1195.3,266.9 1206.8,258.2 1206.8,260.2 1195.3,268.9" fill="#6c737a"/>
<circle cx="1197.8" cy="261.7" r="1.25" fill="#8fd47a"/>
<circle cx="1201.3" cy="259.0" r="1.25" fill="#8fd47a"/>
<polygon points="1195.3,269.6 1206.8,260.9 1206.8,267.4 1195.3,276.1" fill="#8f979f"/>
<polygon points="1195.3,276.1 1206.8,267.4 1206.8,269.4 1195.3,278.1" fill="#6c737a"/>
<circle cx="1197.8" cy="270.9" r="1.25" fill="#8fd47a"/>
<circle cx="1201.3" cy="268.2" r="1.25" fill="#8fd47a"/>
<polygon points="1195.3,278.8 1206.8,270.1 1206.8,276.6 1195.3,285.3" fill="#8f979f"/>
<polygon points="1195.3,285.3 1206.8,276.6 1206.8,278.6 1195.3,287.3" fill="#6c737a"/>
<circle cx="1197.8" cy="280.1" r="1.25" fill="#8fd47a"/>
<circle cx="1201.3" cy="277.4" r="1.25" fill="#8fd47a"/>
<polygon points="1195.3,288.0 1206.8,279.3 1206.8,285.8 1195.3,294.5" fill="#8f979f"/>
<polygon points="1195.3,294.5 1206.8,285.8 1206.8,287.8 1195.3,296.5" fill="#6c737a"/>
<circle cx="1197.8" cy="289.3" r="1.25" fill="#8fd47a"/>
<circle cx="1201.3" cy="286.6" r="1.25" fill="#8fd47a"/>
<polygon points="1210.3,193.8 1221.8,185.1 1221.8,191.6 1210.3,200.3" fill="#8f979f"/>
<polygon points="1210.3,200.3 1221.8,191.6 1221.8,193.6 1210.3,202.3" fill="#6c737a"/>
<circle cx="1212.8" cy="195.1" r="1.25" fill="#8fd47a"/>
<circle cx="1216.3" cy="192.5" r="1.25" fill="#8fd47a"/>
<polygon points="1210.3,203.0 1221.8,194.3 1221.8,200.8 1210.3,209.5" fill="#8f979f"/>
<polygon points="1210.3,209.5 1221.8,200.8 1221.8,202.8 1210.3,211.5" fill="#6c737a"/>
<circle cx="1212.8" cy="204.3" r="1.25" fill="#8fd47a"/>
<circle cx="1216.3" cy="201.7" r="1.25" fill="#8fd47a"/>
<polygon points="1210.3,212.2 1221.8,203.5 1221.8,210.0 1210.3,218.7" fill="#8f979f"/>
<polygon points="1210.3,218.7 1221.8,210.0 1221.8,212.0 1210.3,220.7" fill="#6c737a"/>
<circle cx="1212.8" cy="213.5" r="1.25" fill="#8fd47a"/>
<circle cx="1216.3" cy="210.9" r="1.25" fill="#8fd47a"/>
<polygon points="1210.3,221.4 1221.8,212.7 1221.8,219.2 1210.3,227.9" fill="#8f979f"/>
<polygon points="1210.3,227.9 1221.8,219.2 1221.8,221.2 1210.3,229.9" fill="#6c737a"/>
<circle cx="1212.8" cy="222.7" r="1.25" fill="#8fd47a"/>
<circle cx="1216.3" cy="220.1" r="1.25" fill="#8fd47a"/>
<polygon points="1210.3,230.6 1221.8,221.9 1221.8,228.4 1210.3,237.1" fill="#8f979f"/>
<polygon points="1210.3,237.1 1221.8,228.4 1221.8,230.4 1210.3,239.1" fill="#6c737a"/>
<circle cx="1212.8" cy="231.9" r="1.25" fill="#8fd47a"/>
<circle cx="1216.3" cy="229.3" r="1.25" fill="#8fd47a"/>
<polygon points="1210.3,239.8 1221.8,231.1 1221.8,237.6 1210.3,246.3" fill="#8f979f"/>
<polygon points="1210.3,246.3 1221.8,237.6 1221.8,239.6 1210.3,248.3" fill="#6c737a"/>
<circle cx="1212.8" cy="241.1" r="1.25" fill="#8fd47a"/>
<circle cx="1216.3" cy="238.5" r="1.25" fill="#8fd47a"/>
<polygon points="1210.3,249.0 1221.8,240.3 1221.8,246.8 1210.3,255.5" fill="#8f979f"/>
<polygon points="1210.3,255.5 1221.8,246.8 1221.8,248.8 1210.3,257.5" fill="#6c737a"/>
<circle cx="1212.8" cy="250.3" r="1.25" fill="#8fd47a"/>
<circle cx="1216.3" cy="247.7" r="1.25" fill="#8fd47a"/>
<polygon points="1210.3,258.2 1221.8,249.5 1221.8,256.0 1210.3,264.7" fill="#8f979f"/>
<polygon points="1210.3,264.7 1221.8,256.0 1221.8,258.0 1210.3,266.7" fill="#6c737a"/>
<circle cx="1212.8" cy="259.5" r="1.25" fill="#8fd47a"/>
<circle cx="1216.3" cy="256.9" r="1.25" fill="#8fd47a"/>
<polygon points="1210.3,267.4 1221.8,258.7 1221.8,265.2 1210.3,273.9" fill="#8f979f"/>
<polygon points="1210.3,273.9 1221.8,265.2 1221.8,267.2 1210.3,275.9" fill="#6c737a"/>
<circle cx="1212.8" cy="268.7" r="1.25" fill="#8fd47a"/>
<circle cx="1216.3" cy="266.1" r="1.25" fill="#8fd47a"/>
<polygon points="1210.3,276.6 1221.8,267.9 1221.8,274.4 1210.3,283.1" fill="#8f979f"/>
<polygon points="1210.3,283.1 1221.8,274.4 1221.8,276.4 1210.3,285.1" fill="#6c737a"/>
<circle cx="1212.8" cy="277.9" r="1.25" fill="#8fd47a"/>
<circle cx="1216.3" cy="275.3" r="1.25" fill="#8fd47a"/>
<polygon points="1225.3,182.5 1234.8,175.3 1234.8,181.8 1225.3,189.0" fill="#8f979f"/>
<polygon points="1225.3,189.0 1234.8,181.8 1234.8,183.8 1225.3,191.0" fill="#6c737a"/>
<circle cx="1227.8" cy="183.8" r="1.25" fill="#8fd47a"/>
<circle cx="1231.3" cy="181.1" r="1.25" fill="#8fd47a"/>
<polygon points="1225.3,191.7 1234.8,184.5 1234.8,191.0 1225.3,198.2" fill="#8f979f"/>
<polygon points="1225.3,198.2 1234.8,191.0 1234.8,193.0 1225.3,200.2" fill="#6c737a"/>
<circle cx="1227.8" cy="193.0" r="1.25" fill="#8fd47a"/>
<circle cx="1231.3" cy="190.3" r="1.25" fill="#8fd47a"/>
<polygon points="1225.3,200.9 1234.8,193.7 1234.8,200.2 1225.3,207.4" fill="#8f979f"/>
<polygon points="1225.3,207.4 1234.8,200.2 1234.8,202.2 1225.3,209.4" fill="#6c737a"/>
<circle cx="1227.8" cy="202.2" r="1.25" fill="#8fd47a"/>
<circle cx="1231.3" cy="199.5" r="1.25" fill="#8fd47a"/>
<polygon points="1225.3,210.1 1234.8,202.9 1234.8,209.4 1225.3,216.6" fill="#8f979f"/>
<polygon points="1225.3,216.6 1234.8,209.4 1234.8,211.4 1225.3,218.6" fill="#6c737a"/>
<circle cx="1227.8" cy="211.4" r="1.25" fill="#8fd47a"/>
<circle cx="1231.3" cy="208.7" r="1.25" fill="#8fd47a"/>
<polygon points="1225.3,219.3 1234.8,212.1 1234.8,218.6 1225.3,225.8" fill="#8f979f"/>
<polygon points="1225.3,225.8 1234.8,218.6 1234.8,220.6 1225.3,227.8" fill="#6c737a"/>
<circle cx="1227.8" cy="220.6" r="1.25" fill="#8fd47a"/>
<circle cx="1231.3" cy="217.9" r="1.25" fill="#8fd47a"/>
<polygon points="1225.3,228.5 1234.8,221.3 1234.8,227.8 1225.3,235.0" fill="#8f979f"/>
<polygon points="1225.3,235.0 1234.8,227.8 1234.8,229.8 1225.3,237.0" fill="#6c737a"/>
<circle cx="1227.8" cy="229.8" r="1.25" fill="#8fd47a"/>
<circle cx="1231.3" cy="227.1" r="1.25" fill="#8fd47a"/>
<polygon points="1225.3,237.7 1234.8,230.5 1234.8,237.0 1225.3,244.2" fill="#8f979f"/>
<polygon points="1225.3,244.2 1234.8,237.0 1234.8,239.0 1225.3,246.2" fill="#6c737a"/>
<circle cx="1227.8" cy="239.0" r="1.25" fill="#8fd47a"/>
<circle cx="1231.3" cy="236.3" r="1.25" fill="#8fd47a"/>
<polygon points="1225.3,246.9 1234.8,239.7 1234.8,246.2 1225.3,253.4" fill="#8f979f"/>
<polygon points="1225.3,253.4 1234.8,246.2 1234.8,248.2 1225.3,255.4" fill="#6c737a"/>
<circle cx="1227.8" cy="248.2" r="1.25" fill="#8fd47a"/>
<circle cx="1231.3" cy="245.5" r="1.25" fill="#8fd47a"/>
<polygon points="1225.3,256.1 1234.8,248.9 1234.8,255.4 1225.3,262.6" fill="#8f979f"/>
<polygon points="1225.3,262.6 1234.8,255.4 1234.8,257.4 1225.3,264.6" fill="#6c737a"/>
<circle cx="1227.8" cy="257.4" r="1.25" fill="#8fd47a"/>
<circle cx="1231.3" cy="254.7" r="1.25" fill="#8fd47a"/>
<polygon points="1225.3,265.3 1234.8,258.1 1234.8,264.6 1225.3,271.8" fill="#8f979f"/>
<polygon points="1225.3,271.8 1234.8,264.6 1234.8,266.6 1225.3,273.8" fill="#6c737a"/>
<circle cx="1227.8" cy="266.6" r="1.25" fill="#8fd47a"/>
<circle cx="1231.3" cy="263.9" r="1.25" fill="#8fd47a"/>
<polygon points="1206.8,193.46 1209.8,191.192 1209.8,287.192 1206.8,289.46000000000004" fill="#b4bcc3"/>
<polygon points="1221.8,182.12 1224.8,179.852 1224.8,275.85200000000003 1221.8,278.12" fill="#b4bcc3"/>
<polygon points="1232.8,173.8 1234.8,172.3 1234.8,268.3 1232.8,269.8" fill="#b0b8bf"/>
<rect x="1160.8" y="204.8" width="31" height="96" fill="#b2bac2"/>
<rect x="1189.3" y="204.8" width="3" height="96" fill="#ccd3d9"/>
<polygon points="1191.8,204.8 1194.8,202.532 1194.8,298.53200000000004 1191.8,300.8" fill="#c4cbd1"/>
<polygon points="1160.8,204.8 1191.8,204.8 1234.8,172.3 1234.8,174.3 1192.8,206.3 1160.8,206.3" fill="#cfd5db"/>
<circle cx="1164.8" cy="209.8" r="1.1" fill="#8c949b"/>
<circle cx="1184.8" cy="209.8" r="1.1" fill="#8c949b"/>
<circle cx="1164.8" cy="295.8" r="1.1" fill="#8c949b"/>
<circle cx="1184.8" cy="295.8" r="1.1" fill="#8c949b"/>
<polygon points="1041.2,448.3 1072.2,448.3 1115.2,415.8 1084.2,415.8" fill="#bac2c9"/>
<polygon points="1072.2,448.3 1115.2,415.8 1115.2,511.79999999999995 1072.2,544.3" fill="#959da5"/>
<polygon points="1075.7,448.7 1087.2,440.0 1087.2,446.5 1075.7,455.2" fill="#8f979f"/>
<polygon points="1075.7,455.2 1087.2,446.5 1087.2,448.5 1075.7,457.2" fill="#6c737a"/>
<circle cx="1078.2" cy="450.0" r="1.25" fill="#8fd47a"/>
<circle cx="1081.7" cy="447.3" r="1.25" fill="#8fd47a"/>
<polygon points="1075.7,457.9 1087.2,449.2 1087.2,455.7 1075.7,464.4" fill="#8f979f"/>
<polygon points="1075.7,464.4 1087.2,455.7 1087.2,457.7 1075.7,466.4" fill="#6c737a"/>
<circle cx="1078.2" cy="459.2" r="1.25" fill="#8fd47a"/>
<circle cx="1081.7" cy="456.5" r="1.25" fill="#8fd47a"/>
<polygon points="1075.7,467.1 1087.2,458.4 1087.2,464.9 1075.7,473.6" fill="#8f979f"/>
<polygon points="1075.7,473.6 1087.2,464.9 1087.2,466.9 1075.7,475.6" fill="#6c737a"/>
<circle cx="1078.2" cy="468.4" r="1.25" fill="#8fd47a"/>
<circle cx="1081.7" cy="465.7" r="1.25" fill="#8fd47a"/>
<polygon points="1075.7,476.3 1087.2,467.6 1087.2,474.1 1075.7,482.8" fill="#8f979f"/>
<polygon points="1075.7,482.8 1087.2,474.1 1087.2,476.1 1075.7,484.8" fill="#6c737a"/>
<circle cx="1078.2" cy="477.6" r="1.25" fill="#8fd47a"/>
<circle cx="1081.7" cy="474.9" r="1.25" fill="#8fd47a"/>
<polygon points="1075.7,485.5 1087.2,476.8 1087.2,483.3 1075.7,492.0" fill="#8f979f"/>
<polygon points="1075.7,492.0 1087.2,483.3 1087.2,485.3 1075.7,494.0" fill="#6c737a"/>
<circle cx="1078.2" cy="486.8" r="1.25" fill="#8fd47a"/>
<circle cx="1081.7" cy="484.1" r="1.25" fill="#8fd47a"/>
<polygon points="1075.7,494.7 1087.2,486.0 1087.2,492.5 1075.7,501.2" fill="#8f979f"/>
<polygon points="1075.7,501.2 1087.2,492.5 1087.2,494.5 1075.7,503.2" fill="#6c737a"/>
<circle cx="1078.2" cy="496.0" r="1.25" fill="#8fd47a"/>
<circle cx="1081.7" cy="493.3" r="1.25" fill="#8fd47a"/>
<polygon points="1075.7,503.9 1087.2,495.2 1087.2,501.7 1075.7,510.4" fill="#8f979f"/>
<polygon points="1075.7,510.4 1087.2,501.7 1087.2,503.7 1075.7,512.4" fill="#6c737a"/>
<circle cx="1078.2" cy="505.2" r="1.25" fill="#8fd47a"/>
<circle cx="1081.7" cy="502.5" r="1.25" fill="#8fd47a"/>
<polygon points="1075.7,513.1 1087.2,504.4 1087.2,510.9 1075.7,519.6" fill="#8f979f"/>
<polygon points="1075.7,519.6 1087.2,510.9 1087.2,512.9 1075.7,521.6" fill="#6c737a"/>
<circle cx="1078.2" cy="514.4" r="1.25" fill="#8fd47a"/>
<circle cx="1081.7" cy="511.7" r="1.25" fill="#8fd47a"/>
<polygon points="1075.7,522.3 1087.2,513.6 1087.2,520.1 1075.7,528.8" fill="#8f979f"/>
<polygon points="1075.7,528.8 1087.2,520.1 1087.2,522.1 1075.7,530.8" fill="#6c737a"/>
<circle cx="1078.2" cy="523.6" r="1.25" fill="#8fd47a"/>
<circle cx="1081.7" cy="520.9" r="1.25" fill="#8fd47a"/>
<polygon points="1075.7,531.5 1087.2,522.8 1087.2,529.3 1075.7,538.0" fill="#8f979f"/>
<polygon points="1075.7,538.0 1087.2,529.3 1087.2,531.3 1075.7,540.0" fill="#6c737a"/>
<circle cx="1078.2" cy="532.8" r="1.25" fill="#8fd47a"/>
<circle cx="1081.7" cy="530.1" r="1.25" fill="#8fd47a"/>
<polygon points="1090.7,437.3 1102.2,428.6 1102.2,435.1 1090.7,443.8" fill="#8f979f"/>
<polygon points="1090.7,443.8 1102.2,435.1 1102.2,437.1 1090.7,445.8" fill="#6c737a"/>
<circle cx="1093.2" cy="438.6" r="1.25" fill="#8fd47a"/>
<circle cx="1096.7" cy="436.0" r="1.25" fill="#8fd47a"/>
<polygon points="1090.7,446.5 1102.2,437.8 1102.2,444.3 1090.7,453.0" fill="#8f979f"/>
<polygon points="1090.7,453.0 1102.2,444.3 1102.2,446.3 1090.7,455.0" fill="#6c737a"/>
<circle cx="1093.2" cy="447.8" r="1.25" fill="#8fd47a"/>
<circle cx="1096.7" cy="445.2" r="1.25" fill="#8fd47a"/>
<polygon points="1090.7,455.7 1102.2,447.0 1102.2,453.5 1090.7,462.2" fill="#8f979f"/>
<polygon points="1090.7,462.2 1102.2,453.5 1102.2,455.5 1090.7,464.2" fill="#6c737a"/>
<circle cx="1093.2" cy="457.0" r="1.25" fill="#8fd47a"/>
<circle cx="1096.7" cy="454.4" r="1.25" fill="#8fd47a"/>
<polygon points="1090.7,464.9 1102.2,456.2 1102.2,462.7 1090.7,471.4" fill="#8f979f"/>
<polygon points="1090.7,471.4 1102.2,462.7 1102.2,464.7 1090.7,473.4" fill="#6c737a"/>
<circle cx="1093.2" cy="466.2" r="1.25" fill="#8fd47a"/>
<circle cx="1096.7" cy="463.6" r="1.25" fill="#8fd47a"/>
<polygon points="1090.7,474.1 1102.2,465.4 1102.2,471.9 1090.7,480.6" fill="#8f979f"/>
<polygon points="1090.7,480.6 1102.2,471.9 1102.2,473.9 1090.7,482.6" fill="#6c737a"/>
<circle cx="1093.2" cy="475.4" r="1.25" fill="#8fd47a"/>
<circle cx="1096.7" cy="472.8" r="1.25" fill="#8fd47a"/>
<polygon points="1090.7,483.3 1102.2,474.6 1102.2,481.1 1090.7,489.8" fill="#8f979f"/>
<polygon points="1090.7,489.8 1102.2,481.1 1102.2,483.1 1090.7,491.8" fill="#6c737a"/>
<circle cx="1093.2" cy="484.6" r="1.25" fill="#8fd47a"/>
<circle cx="1096.7" cy="482.0" r="1.25" fill="#8fd47a"/>
<polygon points="1090.7,492.5 1102.2,483.8 1102.2,490.3 1090.7,499.0" fill="#8f979f"/>
<polygon points="1090.7,499.0 1102.2,490.3 1102.2,492.3 1090.7,501.0" fill="#6c737a"/>
<circle cx="1093.2" cy="493.8" r="1.25" fill="#8fd47a"/>
<circle cx="1096.7" cy="491.2" r="1.25" fill="#8fd47a"/>
<polygon points="1090.7,501.7 1102.2,493.0 1102.2,499.5 1090.7,508.2" fill="#8f979f"/>
<polygon points="1090.7,508.2 1102.2,499.5 1102.2,501.5 1090.7,510.2" fill="#6c737a"/>
<circle cx="1093.2" cy="503.0" r="1.25" fill="#8fd47a"/>
<circle cx="1096.7" cy="500.4" r="1.25" fill="#8fd47a"/>
<polygon points="1090.7,510.9 1102.2,502.2 1102.2,508.7 1090.7,517.4" fill="#8f979f"/>
<polygon points="1090.7,517.4 1102.2,508.7 1102.2,510.7 1090.7,519.4" fill="#6c737a"/>
<circle cx="1093.2" cy="512.2" r="1.25" fill="#8fd47a"/>
<circle cx="1096.7" cy="509.6" r="1.25" fill="#8fd47a"/>
<polygon points="1090.7,520.1 1102.2,511.4 1102.2,517.9 1090.7,526.6" fill="#8f979f"/>
<polygon points="1090.7,526.6 1102.2,517.9 1102.2,519.9 1090.7,528.6" fill="#6c737a"/>
<circle cx="1093.2" cy="521.4" r="1.25" fill="#8fd47a"/>
<circle cx="1096.7" cy="518.8" r="1.25" fill="#8fd47a"/>
<polygon points="1105.7,426.0 1115.2,418.8 1115.2,425.3 1105.7,432.5" fill="#8f979f"/>
<polygon points="1105.7,432.5 1115.2,425.3 1115.2,427.3 1105.7,434.5" fill="#6c737a"/>
<circle cx="1108.2" cy="427.3" r="1.25" fill="#8fd47a"/>
<circle cx="1111.7" cy="424.6" r="1.25" fill="#8fd47a"/>
<polygon points="1105.7,435.2 1115.2,428.0 1115.2,434.5 1105.7,441.7" fill="#8f979f"/>
<polygon points="1105.7,441.7 1115.2,434.5 1115.2,436.5 1105.7,443.7" fill="#6c737a"/>
<circle cx="1108.2" cy="436.5" r="1.25" fill="#8fd47a"/>
<circle cx="1111.7" cy="433.8" r="1.25" fill="#8fd47a"/>
<polygon points="1105.7,444.4 1115.2,437.2 1115.2,443.7 1105.7,450.9" fill="#8f979f"/>
<polygon points="1105.7,450.9 1115.2,443.7 1115.2,445.7 1105.7,452.9" fill="#6c737a"/>
<circle cx="1108.2" cy="445.7" r="1.25" fill="#8fd47a"/>
<circle cx="1111.7" cy="443.0" r="1.25" fill="#8fd47a"/>
<polygon points="1105.7,453.6 1115.2,446.4 1115.2,452.9 1105.7,460.1" fill="#8f979f"/>
<polygon points="1105.7,460.1 1115.2,452.9 1115.2,454.9 1105.7,462.1" fill="#6c737a"/>
<circle cx="1108.2" cy="454.9" r="1.25" fill="#8fd47a"/>
<circle cx="1111.7" cy="452.2" r="1.25" fill="#8fd47a"/>
<polygon points="1105.7,462.8 1115.2,455.6 1115.2,462.1 1105.7,469.3" fill="#8f979f"/>
<polygon points="1105.7,469.3 1115.2,462.1 1115.2,464.1 1105.7,471.3" fill="#6c737a"/>
<circle cx="1108.2" cy="464.1" r="1.25" fill="#8fd47a"/>
<circle cx="1111.7" cy="461.4" r="1.25" fill="#8fd47a"/>
<polygon points="1105.7,472.0 1115.2,464.8 1115.2,471.3 1105.7,478.5" fill="#8f979f"/>
<polygon points="1105.7,478.5 1115.2,471.3 1115.2,473.3 1105.7,480.5" fill="#6c737a"/>
<circle cx="1108.2" cy="473.3" r="1.25" fill="#8fd47a"/>
<circle cx="1111.7" cy="470.6" r="1.25" fill="#8fd47a"/>
<polygon points="1105.7,481.2 1115.2,474.0 1115.2,480.5 1105.7,487.7" fill="#8f979f"/>
<polygon points="1105.7,487.7 1115.2,480.5 1115.2,482.5 1105.7,489.7" fill="#6c737a"/>
<circle cx="1108.2" cy="482.5" r="1.25" fill="#8fd47a"/>
<circle cx="1111.7" cy="479.8" r="1.25" fill="#8fd47a"/>
<polygon points="1105.7,490.4 1115.2,483.2 1115.2,489.7 1105.7,496.9" fill="#8f979f"/>
<polygon points="1105.7,496.9 1115.2,489.7 1115.2,491.7 1105.7,498.9" fill="#6c737a"/>
<circle cx="1108.2" cy="491.7" r="1.25" fill="#8fd47a"/>
<circle cx="1111.7" cy="489.0" r="1.25" fill="#8fd47a"/>
<polygon points="1105.7,499.6 1115.2,492.4 1115.2,498.9 1105.7,506.1" fill="#8f979f"/>
<polygon points="1105.7,506.1 1115.2,498.9 1115.2,500.9 1105.7,508.1" fill="#6c737a"/>
<circle cx="1108.2" cy="500.9" r="1.25" fill="#8fd47a"/>
<circle cx="1111.7" cy="498.2" r="1.25" fill="#8fd47a"/>
<polygon points="1105.7,508.8 1115.2,501.6 1115.2,508.1 1105.7,515.3" fill="#8f979f"/>
<polygon points="1105.7,515.3 1115.2,508.1 1115.2,510.1 1105.7,517.3" fill="#6c737a"/>
<circle cx="1108.2" cy="510.1" r="1.25" fill="#8fd47a"/>
<circle cx="1111.7" cy="507.4" r="1.25" fill="#8fd47a"/>
<polygon points="1087.2,436.96000000000004 1090.2,434.692 1090.2,530.692 1087.2,532.9599999999999" fill="#b4bcc3"/>
<polygon points="1102.2,425.62 1105.2,423.35200000000003 1105.2,519.352 1102.2,521.62" fill="#b4bcc3"/>
<polygon points="1113.2,417.3 1115.2,415.8 1115.2,511.79999999999995 1113.2,513.3" fill="#b0b8bf"/>
<rect x="1041.2" y="448.3" width="31" height="96" fill="#b2bac2"/>
<rect x="1069.7" y="448.3" width="3" height="96" fill="#ccd3d9"/>
<polygon points="1072.2,448.3 1075.2,446.03200000000004 1075.2,542.0319999999999 1072.2,544.3" fill="#c4cbd1"/>
<polygon points="1041.2,448.3 1072.2,448.3 1115.2,415.8 1115.2,417.8 1073.2,449.8 1041.2,449.8" fill="#cfd5db"/>
<circle cx="1045.2" cy="453.3" r="1.1" fill="#8c949b"/>
<circle cx="1065.2" cy="453.3" r="1.1" fill="#8c949b"/>
<circle cx="1045.2" cy="539.3" r="1.1" fill="#8c949b"/>
<circle cx="1065.2" cy="539.3" r="1.1" fill="#8c949b"/>
<polygon points="1101.2,448.3 1132.2,448.3 1175.2,415.8 1144.2,415.8" fill="#bac2c9"/>
<polygon points="1132.2,448.3 1175.2,415.8 1175.2,511.79999999999995 1132.2,544.3" fill="#959da5"/>
<polygon points="1135.7,448.7 1147.2,440.0 1147.2,446.5 1135.7,455.2" fill="#8f979f"/>
<polygon points="1135.7,455.2 1147.2,446.5 1147.2,448.5 1135.7,457.2" fill="#6c737a"/>
<circle cx="1138.2" cy="450.0" r="1.25" fill="#8fd47a"/>
<circle cx="1141.7" cy="447.3" r="1.25" fill="#8fd47a"/>
<polygon points="1135.7,457.9 1147.2,449.2 1147.2,455.7 1135.7,464.4" fill="#8f979f"/>
<polygon points="1135.7,464.4 1147.2,455.7 1147.2,457.7 1135.7,466.4" fill="#6c737a"/>
<circle cx="1138.2" cy="459.2" r="1.25" fill="#8fd47a"/>
<circle cx="1141.7" cy="456.5" r="1.25" fill="#8fd47a"/>
<polygon points="1135.7,467.1 1147.2,458.4 1147.2,464.9 1135.7,473.6" fill="#8f979f"/>
<polygon points="1135.7,473.6 1147.2,464.9 1147.2,466.9 1135.7,475.6" fill="#6c737a"/>
<circle cx="1138.2" cy="468.4" r="1.25" fill="#8fd47a"/>
<circle cx="1141.7" cy="465.7" r="1.25" fill="#8fd47a"/>
<polygon points="1135.7,476.3 1147.2,467.6 1147.2,474.1 1135.7,482.8" fill="#8f979f"/>
<polygon points="1135.7,482.8 1147.2,474.1 1147.2,476.1 1135.7,484.8" fill="#6c737a"/>
<circle cx="1138.2" cy="477.6" r="1.25" fill="#8fd47a"/>
<circle cx="1141.7" cy="474.9" r="1.25" fill="#8fd47a"/>
<polygon points="1135.7,485.5 1147.2,476.8 1147.2,483.3 1135.7,492.0" fill="#8f979f"/>
<polygon points="1135.7,492.0 1147.2,483.3 1147.2,485.3 1135.7,494.0" fill="#6c737a"/>
<circle cx="1138.2" cy="486.8" r="1.25" fill="#8fd47a"/>
<circle cx="1141.7" cy="484.1" r="1.25" fill="#8fd47a"/>
<polygon points="1135.7,494.7 1147.2,486.0 1147.2,492.5 1135.7,501.2" fill="#8f979f"/>
<polygon points="1135.7,501.2 1147.2,492.5 1147.2,494.5 1135.7,503.2" fill="#6c737a"/>
<circle cx="1138.2" cy="496.0" r="1.25" fill="#8fd47a"/>
<circle cx="1141.7" cy="493.3" r="1.25" fill="#8fd47a"/>
<polygon points="1135.7,503.9 1147.2,495.2 1147.2,501.7 1135.7,510.4" fill="#8f979f"/>
<polygon points="1135.7,510.4 1147.2,501.7 1147.2,503.7 1135.7,512.4" fill="#6c737a"/>
<circle cx="1138.2" cy="505.2" r="1.25" fill="#8fd47a"/>
<circle cx="1141.7" cy="502.5" r="1.25" fill="#8fd47a"/>
<polygon points="1135.7,513.1 1147.2,504.4 1147.2,510.9 1135.7,519.6" fill="#8f979f"/>
<polygon points="1135.7,519.6 1147.2,510.9 1147.2,512.9 1135.7,521.6" fill="#6c737a"/>
<circle cx="1138.2" cy="514.4" r="1.25" fill="#8fd47a"/>
<circle cx="1141.7" cy="511.7" r="1.25" fill="#8fd47a"/>
<polygon points="1135.7,522.3 1147.2,513.6 1147.2,520.1 1135.7,528.8" fill="#8f979f"/>
<polygon points="1135.7,528.8 1147.2,520.1 1147.2,522.1 1135.7,530.8" fill="#6c737a"/>
<circle cx="1138.2" cy="523.6" r="1.25" fill="#8fd47a"/>
<circle cx="1141.7" cy="520.9" r="1.25" fill="#8fd47a"/>
<polygon points="1135.7,531.5 1147.2,522.8 1147.2,529.3 1135.7,538.0" fill="#8f979f"/>
<polygon points="1135.7,538.0 1147.2,529.3 1147.2,531.3 1135.7,540.0" fill="#6c737a"/>
<circle cx="1138.2" cy="532.8" r="1.25" fill="#8fd47a"/>
<circle cx="1141.7" cy="530.1" r="1.25" fill="#8fd47a"/>
<polygon points="1150.7,437.3 1162.2,428.6 1162.2,435.1 1150.7,443.8" fill="#8f979f"/>
<polygon points="1150.7,443.8 1162.2,435.1 1162.2,437.1 1150.7,445.8" fill="#6c737a"/>
<circle cx="1153.2" cy="438.6" r="1.25" fill="#8fd47a"/>
<circle cx="1156.7" cy="436.0" r="1.25" fill="#8fd47a"/>
<polygon points="1150.7,446.5 1162.2,437.8 1162.2,444.3 1150.7,453.0" fill="#8f979f"/>
<polygon points="1150.7,453.0 1162.2,444.3 1162.2,446.3 1150.7,455.0" fill="#6c737a"/>
<circle cx="1153.2" cy="447.8" r="1.25" fill="#8fd47a"/>
<circle cx="1156.7" cy="445.2" r="1.25" fill="#8fd47a"/>
<polygon points="1150.7,455.7 1162.2,447.0 1162.2,453.5 1150.7,462.2" fill="#8f979f"/>
<polygon points="1150.7,462.2 1162.2,453.5 1162.2,455.5 1150.7,464.2" fill="#6c737a"/>
<circle cx="1153.2" cy="457.0" r="1.25" fill="#8fd47a"/>
<circle cx="1156.7" cy="454.4" r="1.25" fill="#8fd47a"/>
<polygon points="1150.7,464.9 1162.2,456.2 1162.2,462.7 1150.7,471.4" fill="#8f979f"/>
<polygon points="1150.7,471.4 1162.2,462.7 1162.2,464.7 1150.7,473.4" fill="#6c737a"/>
<circle cx="1153.2" cy="466.2" r="1.25" fill="#8fd47a"/>
<circle cx="1156.7" cy="463.6" r="1.25" fill="#8fd47a"/>
<polygon points="1150.7,474.1 1162.2,465.4 1162.2,471.9 1150.7,480.6" fill="#8f979f"/>
<polygon points="1150.7,480.6 1162.2,471.9 1162.2,473.9 1150.7,482.6" fill="#6c737a"/>
<circle cx="1153.2" cy="475.4" r="1.25" fill="#8fd47a"/>
<circle cx="1156.7" cy="472.8" r="1.25" fill="#8fd47a"/>
<polygon points="1150.7,483.3 1162.2,474.6 1162.2,481.1 1150.7,489.8" fill="#8f979f"/>
<polygon points="1150.7,489.8 1162.2,481.1 1162.2,483.1 1150.7,491.8" fill="#6c737a"/>
<circle cx="1153.2" cy="484.6" r="1.25" fill="#8fd47a"/>
<circle cx="1156.7" cy="482.0" r="1.25" fill="#8fd47a"/>
<polygon points="1150.7,492.5 1162.2,483.8 1162.2,490.3 1150.7,499.0" fill="#8f979f"/>
<polygon points="1150.7,499.0 1162.2,490.3 1162.2,492.3 1150.7,501.0" fill="#6c737a"/>
<circle cx="1153.2" cy="493.8" r="1.25" fill="#8fd47a"/>
<circle cx="1156.7" cy="491.2" r="1.25" fill="#8fd47a"/>
<polygon points="1150.7,501.7 1162.2,493.0 1162.2,499.5 1150.7,508.2" fill="#8f979f"/>
<polygon points="1150.7,508.2 1162.2,499.5 1162.2,501.5 1150.7,510.2" fill="#6c737a"/>
<circle cx="1153.2" cy="503.0" r="1.25" fill="#8fd47a"/>
<circle cx="1156.7" cy="500.4" r="1.25" fill="#8fd47a"/>
<polygon points="1150.7,510.9 1162.2,502.2 1162.2,508.7 1150.7,517.4" fill="#8f979f"/>
<polygon points="1150.7,517.4 1162.2,508.7 1162.2,510.7 1150.7,519.4" fill="#6c737a"/>
<circle cx="1153.2" cy="512.2" r="1.25" fill="#8fd47a"/>
<circle cx="1156.7" cy="509.6" r="1.25" fill="#8fd47a"/>
<polygon points="1150.7,520.1 1162.2,511.4 1162.2,517.9 1150.7,526.6" fill="#8f979f"/>
<polygon points="1150.7,526.6 1162.2,517.9 1162.2,519.9 1150.7,528.6" fill="#6c737a"/>
<circle cx="1153.2" cy="521.4" r="1.25" fill="#8fd47a"/>
<circle cx="1156.7" cy="518.8" r="1.25" fill="#8fd47a"/>
<polygon points="1165.7,426.0 1175.2,418.8 1175.2,425.3 1165.7,432.5" fill="#8f979f"/>
<polygon points="1165.7,432.5 1175.2,425.3 1175.2,427.3 1165.7,434.5" fill="#6c737a"/>
<circle cx="1168.2" cy="427.3" r="1.25" fill="#8fd47a"/>
<circle cx="1171.7" cy="424.6" r="1.25" fill="#8fd47a"/>
<polygon points="1165.7,435.2 1175.2,428.0 1175.2,434.5 1165.7,441.7" fill="#8f979f"/>
<polygon points="1165.7,441.7 1175.2,434.5 1175.2,436.5 1165.7,443.7" fill="#6c737a"/>
<circle cx="1168.2" cy="436.5" r="1.25" fill="#8fd47a"/>
<circle cx="1171.7" cy="433.8" r="1.25" fill="#8fd47a"/>
<polygon points="1165.7,444.4 1175.2,437.2 1175.2,443.7 1165.7,450.9" fill="#8f979f"/>
<polygon points="1165.7,450.9 1175.2,443.7 1175.2,445.7 1165.7,452.9" fill="#6c737a"/>
<circle cx="1168.2" cy="445.7" r="1.25" fill="#8fd47a"/>
<circle cx="1171.7" cy="443.0" r="1.25" fill="#8fd47a"/>
<polygon points="1165.7,453.6 1175.2,446.4 1175.2,452.9 1165.7,460.1" fill="#8f979f"/>
<polygon points="1165.7,460.1 1175.2,452.9 1175.2,454.9 1165.7,462.1" fill="#6c737a"/>
<circle cx="1168.2" cy="454.9" r="1.25" fill="#8fd47a"/>
<circle cx="1171.7" cy="452.2" r="1.25" fill="#8fd47a"/>
<polygon points="1165.7,462.8 1175.2,455.6 1175.2,462.1 1165.7,469.3" fill="#8f979f"/>
<polygon points="1165.7,469.3 1175.2,462.1 1175.2,464.1 1165.7,471.3" fill="#6c737a"/>
<circle cx="1168.2" cy="464.1" r="1.25" fill="#8fd47a"/>
<circle cx="1171.7" cy="461.4" r="1.25" fill="#8fd47a"/>
<polygon points="1165.7,472.0 1175.2,464.8 1175.2,471.3 1165.7,478.5" fill="#8f979f"/>
<polygon points="1165.7,478.5 1175.2,471.3 1175.2,473.3 1165.7,480.5" fill="#6c737a"/>
<circle cx="1168.2" cy="473.3" r="1.25" fill="#8fd47a"/>
<circle cx="1171.7" cy="470.6" r="1.25" fill="#8fd47a"/>
<polygon points="1165.7,481.2 1175.2,474.0 1175.2,480.5 1165.7,487.7" fill="#8f979f"/>
<polygon points="1165.7,487.7 1175.2,480.5 1175.2,482.5 1165.7,489.7" fill="#6c737a"/>
<circle cx="1168.2" cy="482.5" r="1.25" fill="#8fd47a"/>
<circle cx="1171.7" cy="479.8" r="1.25" fill="#8fd47a"/>
<polygon points="1165.7,490.4 1175.2,483.2 1175.2,489.7 1165.7,496.9" fill="#8f979f"/>
<polygon points="1165.7,496.9 1175.2,489.7 1175.2,491.7 1165.7,498.9" fill="#6c737a"/>
<circle cx="1168.2" cy="491.7" r="1.25" fill="#8fd47a"/>
<circle cx="1171.7" cy="489.0" r="1.25" fill="#8fd47a"/>
<polygon points="1165.7,499.6 1175.2,492.4 1175.2,498.9 1165.7,506.1" fill="#8f979f"/>
<polygon points="1165.7,506.1 1175.2,498.9 1175.2,500.9 1165.7,508.1" fill="#6c737a"/>
<circle cx="1168.2" cy="500.9" r="1.25" fill="#8fd47a"/>
<circle cx="1171.7" cy="498.2" r="1.25" fill="#8fd47a"/>
<polygon points="1165.7,508.8 1175.2,501.6 1175.2,508.1 1165.7,515.3" fill="#8f979f"/>
<polygon points="1165.7,515.3 1175.2,508.1 1175.2,510.1 1165.7,517.3" fill="#6c737a"/>
<circle cx="1168.2" cy="510.1" r="1.25" fill="#8fd47a"/>
<circle cx="1171.7" cy="507.4" r="1.25" fill="#8fd47a"/>
<polygon points="1147.2,436.96000000000004 1150.2,434.692 1150.2,530.692 1147.2,532.9599999999999" fill="#b4bcc3"/>
<polygon points="1162.2,425.62 1165.2,423.35200000000003 1165.2,519.352 1162.2,521.62" fill="#b4bcc3"/>
<polygon points="1173.2,417.3 1175.2,415.8 1175.2,511.79999999999995 1173.2,513.3" fill="#b0b8bf"/>
<rect x="1101.2" y="448.3" width="31" height="96" fill="#b2bac2"/>
<rect x="1129.7" y="448.3" width="3" height="96" fill="#ccd3d9"/>
<polygon points="1132.2,448.3 1135.2,446.03200000000004 1135.2,542.0319999999999 1132.2,544.3" fill="#c4cbd1"/>
<polygon points="1101.2,448.3 1132.2,448.3 1175.2,415.8 1175.2,417.8 1133.2,449.8 1101.2,449.8" fill="#cfd5db"/>
<circle cx="1105.2" cy="453.3" r="1.1" fill="#8c949b"/>
<circle cx="1125.2" cy="453.3" r="1.1" fill="#8c949b"/>
<circle cx="1105.2" cy="539.3" r="1.1" fill="#8c949b"/>
<circle cx="1125.2" cy="539.3" r="1.1" fill="#8c949b"/>
<polygon points="1161.2,448.3 1192.2,448.3 1235.2,415.8 1204.2,415.8" fill="#bac2c9"/>
<polygon points="1192.2,448.3 1235.2,415.8 1235.2,511.79999999999995 1192.2,544.3" fill="#959da5"/>
<polygon points="1195.7,448.7 1207.2,440.0 1207.2,446.5 1195.7,455.2" fill="#8f979f"/>
<polygon points="1195.7,455.2 1207.2,446.5 1207.2,448.5 1195.7,457.2" fill="#6c737a"/>
<circle cx="1198.2" cy="450.0" r="1.25" fill="#8fd47a"/>
<circle cx="1201.7" cy="447.3" r="1.25" fill="#8fd47a"/>
<polygon points="1195.7,457.9 1207.2,449.2 1207.2,455.7 1195.7,464.4" fill="#8f979f"/>
<polygon points="1195.7,464.4 1207.2,455.7 1207.2,457.7 1195.7,466.4" fill="#6c737a"/>
<circle cx="1198.2" cy="459.2" r="1.25" fill="#8fd47a"/>
<circle cx="1201.7" cy="456.5" r="1.25" fill="#8fd47a"/>
<polygon points="1195.7,467.1 1207.2,458.4 1207.2,464.9 1195.7,473.6" fill="#8f979f"/>
<polygon points="1195.7,473.6 1207.2,464.9 1207.2,466.9 1195.7,475.6" fill="#6c737a"/>
<circle cx="1198.2" cy="468.4" r="1.25" fill="#8fd47a"/>
<circle cx="1201.7" cy="465.7" r="1.25" fill="#8fd47a"/>
<polygon points="1195.7,476.3 1207.2,467.6 1207.2,474.1 1195.7,482.8" fill="#8f979f"/>
<polygon points="1195.7,482.8 1207.2,474.1 1207.2,476.1 1195.7,484.8" fill="#6c737a"/>
<circle cx="1198.2" cy="477.6" r="1.25" fill="#8fd47a"/>
<circle cx="1201.7" cy="474.9" r="1.25" fill="#8fd47a"/>
<polygon points="1195.7,485.5 1207.2,476.8 1207.2,483.3 1195.7,492.0" fill="#8f979f"/>
<polygon points="1195.7,492.0 1207.2,483.3 1207.2,485.3 1195.7,494.0" fill="#6c737a"/>
<circle cx="1198.2" cy="486.8" r="1.25" fill="#8fd47a"/>
<circle cx="1201.7" cy="484.1" r="1.25" fill="#8fd47a"/>
<polygon points="1195.7,494.7 1207.2,486.0 1207.2,492.5 1195.7,501.2" fill="#8f979f"/>
<polygon points="1195.7,501.2 1207.2,492.5 1207.2,494.5 1195.7,503.2" fill="#6c737a"/>
<circle cx="1198.2" cy="496.0" r="1.25" fill="#8fd47a"/>
<circle cx="1201.7" cy="493.3" r="1.25" fill="#8fd47a"/>
<polygon points="1195.7,503.9 1207.2,495.2 1207.2,501.7 1195.7,510.4" fill="#8f979f"/>
<polygon points="1195.7,510.4 1207.2,501.7 1207.2,503.7 1195.7,512.4" fill="#6c737a"/>
<circle cx="1198.2" cy="505.2" r="1.25" fill="#8fd47a"/>
<circle cx="1201.7" cy="502.5" r="1.25" fill="#8fd47a"/>
<polygon points="1195.7,513.1 1207.2,504.4 1207.2,510.9 1195.7,519.6" fill="#8f979f"/>
<polygon points="1195.7,519.6 1207.2,510.9 1207.2,512.9 1195.7,521.6" fill="#6c737a"/>
<circle cx="1198.2" cy="514.4" r="1.25" fill="#8fd47a"/>
<circle cx="1201.7" cy="511.7" r="1.25" fill="#8fd47a"/>
<polygon points="1195.7,522.3 1207.2,513.6 1207.2,520.1 1195.7,528.8" fill="#8f979f"/>
<polygon points="1195.7,528.8 1207.2,520.1 1207.2,522.1 1195.7,530.8" fill="#6c737a"/>
<circle cx="1198.2" cy="523.6" r="1.25" fill="#8fd47a"/>
<circle cx="1201.7" cy="520.9" r="1.25" fill="#8fd47a"/>
<polygon points="1195.7,531.5 1207.2,522.8 1207.2,529.3 1195.7,538.0" fill="#8f979f"/>
<polygon points="1195.7,538.0 1207.2,529.3 1207.2,531.3 1195.7,540.0" fill="#6c737a"/>
<circle cx="1198.2" cy="532.8" r="1.25" fill="#8fd47a"/>
<circle cx="1201.7" cy="530.1" r="1.25" fill="#8fd47a"/>
<polygon points="1210.7,437.3 1222.2,428.6 1222.2,435.1 1210.7,443.8" fill="#8f979f"/>
<polygon points="1210.7,443.8 1222.2,435.1 1222.2,437.1 1210.7,445.8" fill="#6c737a"/>
<circle cx="1213.2" cy="438.6" r="1.25" fill="#8fd47a"/>
<circle cx="1216.7" cy="436.0" r="1.25" fill="#8fd47a"/>
<polygon points="1210.7,446.5 1222.2,437.8 1222.2,444.3 1210.7,453.0" fill="#8f979f"/>
<polygon points="1210.7,453.0 1222.2,444.3 1222.2,446.3 1210.7,455.0" fill="#6c737a"/>
<circle cx="1213.2" cy="447.8" r="1.25" fill="#8fd47a"/>
<circle cx="1216.7" cy="445.2" r="1.25" fill="#8fd47a"/>
<polygon points="1210.7,455.7 1222.2,447.0 1222.2,453.5 1210.7,462.2" fill="#8f979f"/>
<polygon points="1210.7,462.2 1222.2,453.5 1222.2,455.5 1210.7,464.2" fill="#6c737a"/>
<circle cx="1213.2" cy="457.0" r="1.25" fill="#8fd47a"/>
<circle cx="1216.7" cy="454.4" r="1.25" fill="#8fd47a"/>
<polygon points="1210.7,464.9 1222.2,456.2 1222.2,462.7 1210.7,471.4" fill="#8f979f"/>
<polygon points="1210.7,471.4 1222.2,462.7 1222.2,464.7 1210.7,473.4" fill="#6c737a"/>
<circle cx="1213.2" cy="466.2" r="1.25" fill="#8fd47a"/>
<circle cx="1216.7" cy="463.6" r="1.25" fill="#8fd47a"/>
<polygon points="1210.7,474.1 1222.2,465.4 1222.2,471.9 1210.7,480.6" fill="#8f979f"/>
<polygon points="1210.7,480.6 1222.2,471.9 1222.2,473.9 1210.7,482.6" fill="#6c737a"/>
<circle cx="1213.2" cy="475.4" r="1.25" fill="#8fd47a"/>
<circle cx="1216.7" cy="472.8" r="1.25" fill="#8fd47a"/>
<polygon points="1210.7,483.3 1222.2,474.6 1222.2,481.1 1210.7,489.8" fill="#8f979f"/>
<polygon points="1210.7,489.8 1222.2,481.1 1222.2,483.1 1210.7,491.8" fill="#6c737a"/>
<circle cx="1213.2" cy="484.6" r="1.25" fill="#8fd47a"/>
<circle cx="1216.7" cy="482.0" r="1.25" fill="#8fd47a"/>
<polygon points="1210.7,492.5 1222.2,483.8 1222.2,490.3 1210.7,499.0" fill="#8f979f"/>
<polygon points="1210.7,499.0 1222.2,490.3 1222.2,492.3 1210.7,501.0" fill="#6c737a"/>
<circle cx="1213.2" cy="493.8" r="1.25" fill="#8fd47a"/>
<circle cx="1216.7" cy="491.2" r="1.25" fill="#8fd47a"/>
<polygon points="1210.7,501.7 1222.2,493.0 1222.2,499.5 1210.7,508.2" fill="#8f979f"/>
<polygon points="1210.7,508.2 1222.2,499.5 1222.2,501.5 1210.7,510.2" fill="#6c737a"/>
<circle cx="1213.2" cy="503.0" r="1.25" fill="#8fd47a"/>
<circle cx="1216.7" cy="500.4" r="1.25" fill="#8fd47a"/>
<polygon points="1210.7,510.9 1222.2,502.2 1222.2,508.7 1210.7,517.4" fill="#8f979f"/>
<polygon points="1210.7,517.4 1222.2,508.7 1222.2,510.7 1210.7,519.4" fill="#6c737a"/>
<circle cx="1213.2" cy="512.2" r="1.25" fill="#8fd47a"/>
<circle cx="1216.7" cy="509.6" r="1.25" fill="#8fd47a"/>
<polygon points="1210.7,520.1 1222.2,511.4 1222.2,517.9 1210.7,526.6" fill="#8f979f"/>
<polygon points="1210.7,526.6 1222.2,517.9 1222.2,519.9 1210.7,528.6" fill="#6c737a"/>
<circle cx="1213.2" cy="521.4" r="1.25" fill="#8fd47a"/>
<circle cx="1216.7" cy="518.8" r="1.25" fill="#8fd47a"/>
<polygon points="1225.7,426.0 1235.2,418.8 1235.2,425.3 1225.7,432.5" fill="#8f979f"/>
<polygon points="1225.7,432.5 1235.2,425.3 1235.2,427.3 1225.7,434.5" fill="#6c737a"/>
<circle cx="1228.2" cy="427.3" r="1.25" fill="#8fd47a"/>
<circle cx="1231.7" cy="424.6" r="1.25" fill="#8fd47a"/>
<polygon points="1225.7,435.2 1235.2,428.0 1235.2,434.5 1225.7,441.7" fill="#8f979f"/>
<polygon points="1225.7,441.7 1235.2,434.5 1235.2,436.5 1225.7,443.7" fill="#6c737a"/>
<circle cx="1228.2" cy="436.5" r="1.25" fill="#8fd47a"/>
<circle cx="1231.7" cy="433.8" r="1.25" fill="#8fd47a"/>
<polygon points="1225.7,444.4 1235.2,437.2 1235.2,443.7 1225.7,450.9" fill="#8f979f"/>
<polygon points="1225.7,450.9 1235.2,443.7 1235.2,445.7 1225.7,452.9" fill="#6c737a"/>
<circle cx="1228.2" cy="445.7" r="1.25" fill="#8fd47a"/>
<circle cx="1231.7" cy="443.0" r="1.25" fill="#8fd47a"/>
<polygon points="1225.7,453.6 1235.2,446.4 1235.2,452.9 1225.7,460.1" fill="#8f979f"/>
<polygon points="1225.7,460.1 1235.2,452.9 1235.2,454.9 1225.7,462.1" fill="#6c737a"/>
<circle cx="1228.2" cy="454.9" r="1.25" fill="#8fd47a"/>
<circle cx="1231.7" cy="452.2" r="1.25" fill="#8fd47a"/>
<polygon points="1225.7,462.8 1235.2,455.6 1235.2,462.1 1225.7,469.3" fill="#8f979f"/>
<polygon points="1225.7,469.3 1235.2,462.1 1235.2,464.1 1225.7,471.3" fill="#6c737a"/>
<circle cx="1228.2" cy="464.1" r="1.25" fill="#8fd47a"/>
<circle cx="1231.7" cy="461.4" r="1.25" fill="#8fd47a"/>
<polygon points="1225.7,472.0 1235.2,464.8 1235.2,471.3 1225.7,478.5" fill="#8f979f"/>
<polygon points="1225.7,478.5 1235.2,471.3 1235.2,473.3 1225.7,480.5" fill="#6c737a"/>
<circle cx="1228.2" cy="473.3" r="1.25" fill="#8fd47a"/>
<circle cx="1231.7" cy="470.6" r="1.25" fill="#8fd47a"/>
<polygon points="1225.7,481.2 1235.2,474.0 1235.2,480.5 1225.7,487.7" fill="#8f979f"/>
<polygon points="1225.7,487.7 1235.2,480.5 1235.2,482.5 1225.7,489.7" fill="#6c737a"/>
<circle cx="1228.2" cy="482.5" r="1.25" fill="#8fd47a"/>
<circle cx="1231.7" cy="479.8" r="1.25" fill="#8fd47a"/>
<polygon points="1225.7,490.4 1235.2,483.2 1235.2,489.7 1225.7,496.9" fill="#8f979f"/>
<polygon points="1225.7,496.9 1235.2,489.7 1235.2,491.7 1225.7,498.9" fill="#6c737a"/>
<circle cx="1228.2" cy="491.7" r="1.25" fill="#8fd47a"/>
<circle cx="1231.7" cy="489.0" r="1.25" fill="#8fd47a"/>
<polygon points="1225.7,499.6 1235.2,492.4 1235.2,498.9 1225.7,506.1" fill="#8f979f"/>
<polygon points="1225.7,506.1 1235.2,498.9 1235.2,500.9 1225.7,508.1" fill="#6c737a"/>
<circle cx="1228.2" cy="500.9" r="1.25" fill="#8fd47a"/>
<circle cx="1231.7" cy="498.2" r="1.25" fill="#8fd47a"/>
<polygon points="1225.7,508.8 1235.2,501.6 1235.2,508.1 1225.7,515.3" fill="#8f979f"/>
<polygon points="1225.7,515.3 1235.2,508.1 1235.2,510.1 1225.7,517.3" fill="#6c737a"/>
<circle cx="1228.2" cy="510.1" r="1.25" fill="#8fd47a"/>
<circle cx="1231.7" cy="507.4" r="1.25" fill="#8fd47a"/>
<polygon points="1207.2,436.96000000000004 1210.2,434.692 1210.2,530.692 1207.2,532.9599999999999" fill="#b4bcc3"/>
<polygon points="1222.2,425.62 1225.2,423.35200000000003 1225.2,519.352 1222.2,521.62" fill="#b4bcc3"/>
<polygon points="1233.2,417.3 1235.2,415.8 1235.2,511.79999999999995 1233.2,513.3" fill="#b0b8bf"/>
<rect x="1161.2" y="448.3" width="31" height="96" fill="#b2bac2"/>
<rect x="1189.7" y="448.3" width="3" height="96" fill="#ccd3d9"/>
<polygon points="1192.2,448.3 1195.2,446.03200000000004 1195.2,542.0319999999999 1192.2,544.3" fill="#c4cbd1"/>
<polygon points="1161.2,448.3 1192.2,448.3 1235.2,415.8 1235.2,417.8 1193.2,449.8 1161.2,449.8" fill="#cfd5db"/>
<circle cx="1165.2" cy="453.3" r="1.1" fill="#8c949b"/>
<circle cx="1185.2" cy="453.3" r="1.1" fill="#8c949b"/>
<circle cx="1165.2" cy="539.3" r="1.1" fill="#8c949b"/>
<circle cx="1185.2" cy="539.3" r="1.1" fill="#8c949b"/>
</svg>

<div class="lab" style="left:737px;top:249px;width:85px;height:42px;line-height:38px;">MME</div>
<div class="lab" style="left:737px;top:494px;width:85px;height:42px;line-height:38px;">SGW</div>
<div class="lab" style="left:1098px;top:249px;width:85px;height:43px;line-height:39px;">HSS</div>
<div class="lab" style="left:1098px;top:494px;width:85px;height:42px;line-height:38px;">PGW</div>
<svg width="1442" height="625" viewBox="0 0 1442 625">

  <g>
    <rect x="459.4" y="238" width="7.6" height="142" fill="#8e959c"/>
    <rect x="459.4" y="240" width="7.6" height="6" fill="#6f767c"/>
    <rect x="461" y="200" width="4.3" height="12" rx="2" fill="#8b9298"/>
    <rect x="456.8" y="209.3" width="12.7" height="19.3" rx="2" fill="#aeb2b6"/>
    <rect x="461" y="228.6" width="4.3" height="9" fill="#7b8188"/>
    <rect x="457.5" y="236.5" width="12" height="3.5" fill="#cfd3d6"/>
    <rect x="452.6" y="275.7" width="21.1" height="4.2" fill="#64696f"/>
    <rect x="452.6" y="286.6" width="21.1" height="4.2" fill="#64696f"/>
    <rect x="441.7" y="239.5" width="10.9" height="56.3" fill="#b0b4b8"/>
    <rect x="473.7" y="239.5" width="10.9" height="56.3" fill="#b0b4b8"/>
    <rect x="440.8" y="239" width="12.6" height="3.5" fill="#c9cdd0"/>
    <rect x="472.8" y="239" width="12.6" height="3.5" fill="#c9cdd0"/>
    <rect x="440.8" y="291.5" width="12.6" height="4.5" fill="#c9cdd0"/>
    <rect x="472.8" y="291.5" width="12.6" height="4.5" fill="#c9cdd0"/>
    <rect x="457" y="291.5" width="12.4" height="4" fill="#c9cdd0"/>
    <g fill="none" stroke="#1e1e1e" stroke-width="2.2">
      <path d="M444.4 297 Q443 308 456.4 314.6"/>
      <path d="M479.5 297 Q481 308 468.4 314.6"/>
      <path d="M456.4 321 Q448 325 448.4 332"/>
      <path d="M470.8 321 Q477 325 477.1 332"/>
      <path d="M447.6 359 C446 381 479 381 477.5 359"/>
      <path d="M455 359 C454 366 458 369 461 371"/>
    </g>
    <rect x="454" y="313.8" width="18.4" height="7.2" fill="#a0a7ae"/>
    <rect x="439.9" y="331" width="46" height="29.1" fill="#d8cdb8"/>
    <rect x="451.6" y="331" width="3.2" height="29.1" fill="#a79f98"/>
    <rect x="464.8" y="331" width="2.2" height="29.1" fill="#f4f0ea"/>
    <g fill="#75707a">
      <rect x="470" y="335.5" width="13" height="1.2"/>
      <rect x="470" y="340" width="13" height="1.2"/>
      <rect x="470" y="344.5" width="13" height="1.2"/>
      <rect x="470" y="349" width="13" height="1.2"/>
      <rect x="470" y="353.5" width="13" height="1.2"/>
    </g>
  </g>

</svg>

<div class="lab" style="left:402px;top:378px;width:122px;height:63px;"></div>
<div class="t" style="left:402px;top:380.5px;width:122px;text-align:center;font-size:23px;line-height:28px;color:#3a3a3a;">基地局</div>
<div class="t" style="left:396px;top:408px;width:134px;text-align:center;font-size:23px;line-height:28px;color:#3a3a3a;transform:scaleX(1.1);transform-origin:50% 50%;">（eNodeB）</div>
<svg width="1442" height="625" viewBox="0 0 1442 625">

  <ellipse cx="181.7" cy="414" rx="9.5" ry="7.5" fill="none" stroke="#8fd0ef" stroke-width="3"/>
  <ellipse cx="220" cy="414" rx="9" ry="7.5" fill="none" stroke="#ef9090" stroke-width="3"/>
  <rect x="144.1" y="520.6" width="59.4" height="26.7" rx="1.5" fill="#98999b"/>
  <rect x="144.1" y="520.6" width="59.4" height="7" rx="1" fill="#b2b3b5"/>
  <circle cx="148.5" cy="524.5" r="1" fill="#555"/><circle cx="198.5" cy="524.5" r="1" fill="#555"/>
  <path d="M155.9 527 C155 506 192 506 191.2 527 Z" fill="#d4111b"/>

</svg>
<svg width="1442" height="625" viewBox="0 0 1442 625">

  <!-- SIM cards -->
  <polygon points="63.1,160.2 95.7,172.5 66.1,217.8 36.7,206 34.1,192.3" fill="#d9101a" stroke="#d9101a" stroke-width="1.5" stroke-linejoin="round"/>
  <polyline points="37.2,196 38.8,204.5 63.5,214.5" fill="none" stroke="#f3a0a5" stroke-width="1.1"/>
  <polygon points="62.3,167 86.9,177.3 73.8,194.9 49.2,183.7" fill="#f2c64a" stroke="#f2c64a" stroke-width="2" stroke-linejoin="round"/>
  <g stroke="#b08a2a" stroke-width="1.5" fill="none" stroke-linecap="round"><path d="M59.7 171.8 L86 181.1 M53.6 177.3 L72.2 184.3 L68.7 190.7 M65.5 167.7 L64.2 172.8 M74.4 170.9 L72.5 176 M80.9 174.1 L77.6 179.2 M59.7 179.8 L55.2 185.6 M66.1 182.4 L62 188.8"/></g>
  <polygon points="110.7,211.6 121.2,241.5 86.9,251.8 76.3,229.2 85.1,216.9" fill="#9e5aa5" stroke="#9e5aa5" stroke-width="1.5" stroke-linejoin="round"/>
  <polyline points="78,232 87.5,249.5 119,240.5" fill="none" stroke="#d6b4db" stroke-width="1.1"/>
  <polygon points="83.8,224 109.4,217.2 115.4,234.9 89.8,242.5" fill="#f2c64a" stroke="#f2c64a" stroke-width="2" stroke-linejoin="round"/>
  <g stroke="#b08a2a" stroke-width="1.4" fill="none" stroke-linecap="round"><path d="M92.5 221 L96.9 236 M101.8 218.8 L107.2 237 M85.4 227.8 L93.6 226.1 M86.8 232.7 L95.2 230.8 M88.4 238.1 L96.9 236 M102.9 222 L110.5 221 M103.9 227.2 L112.7 226.1 M105.6 232.4 L114 230.8"/></g>
  <polygon points="36.7,232.7 62.3,241.5 57,256.5 27,247.7" fill="#66b246" stroke="#66b246" stroke-width="1.5" stroke-linejoin="round"/>
  <polygon points="35.8,236.3 57.9,242.4 54.3,252.1 33.2,246" fill="#f2c64a" stroke="#f2c64a" stroke-width="1.5" stroke-linejoin="round"/>
  <g stroke="#b08a2a" stroke-width="1.2" fill="none" stroke-linecap="round"><path d="M44.6 238.7 L42.4 246.0 M35.0 239.2 L43.7 241.7 M34.4 241.6 L43.0 244.1 M36.4 244.3 L42.4 246.0 M48.7 240.9 L45.9 249.7 M47.8 243.8 L56.5 246.3 M46.8 246.8 L55.4 249.2 "/></g>
  <g transform="translate(22.5 295) rotate(-18.7)">
    <rect x="-1" y="0" width="182" height="106" rx="3" fill="#1f8a32"/>
    <rect x="-1" y="-1" width="181" height="103" rx="3" fill="#2c9438"/>
    <path d="M60 17 L100 17 L100 28 L150 28 L150 100 L100 100 L100 70 L60 70 Z" fill="#35a040" opacity="0.6"/>
    <circle cx="142.6" cy="14.3" r="2.1" fill="#cbbcae"/><circle cx="147.8" cy="22.8" r="2.1" fill="#cbbcae"/><circle cx="121.1" cy="21.9" r="2.1" fill="#cbbcae"/><circle cx="103.5" cy="19.9" r="2.1" fill="#cbbcae"/><circle cx="92.7" cy="21.8" r="2.1" fill="#cbbcae"/><circle cx="91.8" cy="36.3" r="2.1" fill="#cbbcae"/><circle cx="93.4" cy="47.6" r="2.1" fill="#cbbcae"/><circle cx="96.8" cy="57.6" r="2.1" fill="#cbbcae"/><circle cx="93.1" cy="64.5" r="2.1" fill="#cbbcae"/><circle cx="150.9" cy="49.5" r="2.1" fill="#cbbcae"/><circle cx="151.6" cy="59.2" r="2.1" fill="#cbbcae"/><circle cx="3.0" cy="18.5" r="2.1" fill="#cbbcae"/><circle cx="12.1" cy="21.6" r="2.1" fill="#cbbcae"/><circle cx="37.4" cy="40.3" r="2.1" fill="#cbbcae"/><circle cx="40.7" cy="60.0" r="2.1" fill="#cbbcae"/><circle cx="25.6" cy="62.1" r="2.1" fill="#cbbcae"/><circle cx="50.9" cy="80.8" r="2.1" fill="#cbbcae"/><circle cx="8.7" cy="86.6" r="2.1" fill="#cbbcae"/><circle cx="50.9" cy="89.3" r="2.1" fill="#cbbcae"/>
    <circle cx="4" cy="7" r="3" fill="#d8d98f"/>
    <circle cx="5" cy="98" r="3" fill="#d8d98f"/>
    <circle cx="147" cy="5" r="3" fill="#d8d98f"/>
    <circle cx="147" cy="96" r="3" fill="#d8d98f"/>
    <rect x="10.5" y="2.5" width="124" height="14.5" rx="1" fill="#2a1f20"/>
    <circle cx="14.0" cy="6.3" r="1.8" fill="#d3c18e"/><circle cx="20.1" cy="6.3" r="1.8" fill="#d3c18e"/><circle cx="26.2" cy="6.3" r="1.8" fill="#d3c18e"/><circle cx="32.3" cy="6.3" r="1.8" fill="#d3c18e"/><circle cx="38.4" cy="6.3" r="1.8" fill="#d3c18e"/><circle cx="44.5" cy="6.3" r="1.8" fill="#d3c18e"/><circle cx="50.6" cy="6.3" r="1.8" fill="#d3c18e"/><circle cx="56.7" cy="6.3" r="1.8" fill="#d3c18e"/><circle cx="62.8" cy="6.3" r="1.8" fill="#d3c18e"/><circle cx="68.9" cy="6.3" r="1.8" fill="#d3c18e"/><circle cx="75.0" cy="6.3" r="1.8" fill="#d3c18e"/><circle cx="81.1" cy="6.3" r="1.8" fill="#d3c18e"/><circle cx="87.2" cy="6.3" r="1.8" fill="#d3c18e"/><circle cx="93.3" cy="6.3" r="1.8" fill="#d3c18e"/><circle cx="99.4" cy="6.3" r="1.8" fill="#d3c18e"/><circle cx="105.5" cy="6.3" r="1.8" fill="#d3c18e"/><circle cx="111.6" cy="6.3" r="1.8" fill="#d3c18e"/><circle cx="117.7" cy="6.3" r="1.8" fill="#d3c18e"/><circle cx="123.8" cy="6.3" r="1.8" fill="#d3c18e"/><circle cx="129.9" cy="6.3" r="1.8" fill="#d3c18e"/>
    <circle cx="14.0" cy="13.2" r="1.8" fill="#d3c18e"/><circle cx="20.1" cy="13.2" r="1.8" fill="#d3c18e"/><circle cx="26.2" cy="13.2" r="1.8" fill="#d3c18e"/><circle cx="32.3" cy="13.2" r="1.8" fill="#d3c18e"/><circle cx="38.4" cy="13.2" r="1.8" fill="#d3c18e"/><circle cx="44.5" cy="13.2" r="1.8" fill="#d3c18e"/><circle cx="50.6" cy="13.2" r="1.8" fill="#d3c18e"/><circle cx="56.7" cy="13.2" r="1.8" fill="#d3c18e"/><circle cx="62.8" cy="13.2" r="1.8" fill="#d3c18e"/><circle cx="68.9" cy="13.2" r="1.8" fill="#d3c18e"/><circle cx="75.0" cy="13.2" r="1.8" fill="#d3c18e"/><circle cx="81.1" cy="13.2" r="1.8" fill="#d3c18e"/><circle cx="87.2" cy="13.2" r="1.8" fill="#d3c18e"/><circle cx="93.3" cy="13.2" r="1.8" fill="#d3c18e"/><circle cx="99.4" cy="13.2" r="1.8" fill="#d3c18e"/><circle cx="105.5" cy="13.2" r="1.8" fill="#d3c18e"/><circle cx="111.6" cy="13.2" r="1.8" fill="#d3c18e"/><circle cx="117.7" cy="13.2" r="1.8" fill="#d3c18e"/><circle cx="123.8" cy="13.2" r="1.8" fill="#d3c18e"/><circle cx="129.9" cy="13.2" r="1.8" fill="#d3c18e"/>
    <rect x="4.5" y="25" width="8.5" height="53" rx="1" fill="#2a1f20"/>
    <rect x="14" y="27.0" width="3" height="1.5" fill="#c9b37a"/><rect x="14" y="30.6" width="3" height="1.5" fill="#c9b37a"/><rect x="14" y="34.2" width="3" height="1.5" fill="#c9b37a"/><rect x="14" y="37.8" width="3" height="1.5" fill="#c9b37a"/><rect x="14" y="41.4" width="3" height="1.5" fill="#c9b37a"/><rect x="14" y="45.0" width="3" height="1.5" fill="#c9b37a"/><rect x="14" y="48.6" width="3" height="1.5" fill="#c9b37a"/><rect x="14" y="52.2" width="3" height="1.5" fill="#c9b37a"/><rect x="14" y="55.8" width="3" height="1.5" fill="#c9b37a"/><rect x="14" y="59.4" width="3" height="1.5" fill="#c9b37a"/><rect x="14" y="63.0" width="3" height="1.5" fill="#c9b37a"/><rect x="14" y="66.6" width="3" height="1.5" fill="#c9b37a"/><rect x="14" y="70.2" width="3" height="1.5" fill="#c9b37a"/><rect x="14" y="73.8" width="3" height="1.5" fill="#c9b37a"/>
    <circle cx="31" cy="29.5" r="7.5" fill="#c7cacd" stroke="#e6e8ea" stroke-width="1"/>
    <rect x="29.5" y="26" width="3" height="7" rx="1.5" fill="#7a6656"/>
    <circle cx="31" cy="49.6" r="7.5" fill="#c7cacd" stroke="#e6e8ea" stroke-width="1"/>
    <rect x="29.5" y="46" width="3" height="7" rx="1.5" fill="#7a6656"/>
    <rect x="47.5" y="30" width="39" height="37.5" rx="2" fill="#261a1c" stroke="#aeb3b5" stroke-width="1.5"/>
    <ellipse cx="23.7" cy="71.2" rx="1.3" ry="2.8" fill="#eef0f0"/><ellipse cx="38.7" cy="71.2" rx="1.3" ry="2.8" fill="#eef0f0"/><ellipse cx="44.3" cy="78.1" rx="1.3" ry="2.8" fill="#eef0f0"/><ellipse cx="59.3" cy="78.1" rx="1.3" ry="2.8" fill="#eef0f0"/><ellipse cx="17.6" cy="84.9" rx="1.3" ry="2.8" fill="#eef0f0"/><ellipse cx="32.6" cy="84.9" rx="1.3" ry="2.8" fill="#eef0f0"/><ellipse cx="98.9" cy="26.5" rx="1.3" ry="2.8" fill="#eef0f0"/><ellipse cx="112.9" cy="26.5" rx="1.3" ry="2.8" fill="#eef0f0"/><ellipse cx="97.6" cy="34.8" rx="1.3" ry="2.8" fill="#eef0f0"/><ellipse cx="111.6" cy="34.8" rx="1.3" ry="2.8" fill="#eef0f0"/><ellipse cx="98.8" cy="43.8" rx="1.3" ry="2.8" fill="#eef0f0"/><ellipse cx="112.8" cy="43.8" rx="1.3" ry="2.8" fill="#eef0f0"/><ellipse cx="47.5" cy="21.5" rx="1.3" ry="2.8" fill="#eef0f0"/><ellipse cx="60.5" cy="21.5" rx="1.3" ry="2.8" fill="#eef0f0"/><ellipse cx="67.1" cy="22.4" rx="1.3" ry="2.8" fill="#eef0f0"/><ellipse cx="80.1" cy="22.4" rx="1.3" ry="2.8" fill="#eef0f0"/>
    <ellipse cx="54" cy="21.5" rx="6" ry="2.6" fill="#e49a98"/>
    <ellipse cx="73.6" cy="22.4" rx="6" ry="2.6" fill="#e49a98"/>
    <ellipse cx="31.2" cy="71.2" rx="7" ry="3.8" fill="#f07a1e"/>
    <ellipse cx="51.8" cy="78.1" rx="7" ry="3.8" fill="#464a55"/>
    <ellipse cx="25.1" cy="84.9" rx="7" ry="3.8" fill="#464a55"/>
    <ellipse cx="105.9" cy="26.5" rx="6.5" ry="3.2" fill="#3ba6df"/>
    <ellipse cx="104.6" cy="34.8" rx="6.5" ry="3.2" fill="#3ba6df"/>
    <ellipse cx="105.8" cy="43.8" rx="6.5" ry="3.2" fill="#3ba6df"/>
    <rect x="125" y="26" width="21" height="21" rx="2" fill="none" stroke="#d8dcd8" stroke-width="2" stroke-dasharray="1.6 1.6"/><rect x="126.5" y="27.5" width="18" height="18" rx="2" fill="#261a1c"/>
    <rect x="110" y="50" width="8" height="53" rx="1" fill="#2a1f20"/>
    <rect x="106" y="52.0" width="3" height="1.5" fill="#c9b37a"/><rect x="106" y="55.6" width="3" height="1.5" fill="#c9b37a"/><rect x="106" y="59.2" width="3" height="1.5" fill="#c9b37a"/><rect x="106" y="62.8" width="3" height="1.5" fill="#c9b37a"/><rect x="106" y="66.4" width="3" height="1.5" fill="#c9b37a"/><rect x="106" y="70.0" width="3" height="1.5" fill="#c9b37a"/><rect x="106" y="73.6" width="3" height="1.5" fill="#c9b37a"/><rect x="106" y="77.2" width="3" height="1.5" fill="#c9b37a"/><rect x="106" y="80.8" width="3" height="1.5" fill="#c9b37a"/><rect x="106" y="84.4" width="3" height="1.5" fill="#c9b37a"/><rect x="106" y="88.0" width="3" height="1.5" fill="#c9b37a"/><rect x="106" y="91.6" width="3" height="1.5" fill="#c9b37a"/><rect x="106" y="95.2" width="3" height="1.5" fill="#c9b37a"/><rect x="106" y="98.8" width="3" height="1.5" fill="#c9b37a"/>
    <g fill="#c2de3a">
      <ellipse cx="126" cy="58" rx="2.4" ry="5"/><ellipse cx="133" cy="58" rx="2.4" ry="5"/><ellipse cx="140" cy="58" rx="2.4" ry="5"/>
      <ellipse cx="126" cy="72" rx="2.4" ry="5"/><ellipse cx="133" cy="72" rx="2.4" ry="5"/><ellipse cx="140" cy="72" rx="2.4" ry="5"/>
    </g>
    <g fill="#c3c8cc">
      <ellipse cx="80" cy="77" rx="2.5" ry="5"/><ellipse cx="88.4" cy="78" rx="2.5" ry="5"/><ellipse cx="97.5" cy="77" rx="2.5" ry="5"/>
    </g>
    <rect x="124" y="83.5" width="17" height="24.5" rx="1.5" fill="#b3b8bd" stroke="#cfd3d6" stroke-width="1.2"/>
    <path d="M126 86 H137" stroke="#eef0f2" stroke-width="2"/>
    <rect x="127.5" y="107.5" width="10" height="8" rx="1" fill="#231c1c"/>
    <rect x="158" y="4" width="33" height="23.5" rx="3.5" fill="#bcc3c9" stroke="#dfe3e7" stroke-width="3.2"/>
    <rect x="158.5" y="36" width="33" height="23.5" rx="3.5" fill="#bcc3c9" stroke="#dfe3e7" stroke-width="3.2"/>
    <rect x="154.5" y="68" width="37" height="30.5" rx="3.5" fill="#bcc3c9" stroke="#dfe3e7" stroke-width="3.2"/>
    <circle cx="159" cy="5.5" r="2.4" fill="#fafafa"/><circle cx="159.5" cy="37.5" r="2.4" fill="#fafafa"/><circle cx="155.5" cy="69.5" r="2.4" fill="#fafafa"/>
    <g fill="none" stroke="#7d8389" stroke-width="3" stroke-linecap="round">
      <path d="M175 8.5 C181 6.5 186 9.5 180 13.5 M176 17 C182 15 187 18 181 22"/>
      <path d="M175.5 40.5 C181.5 38.5 186.5 41.5 180.5 45.5 M176.5 49 C182.5 47 187.5 50 181.5 54"/>
    </g>
    <rect x="19" y="95.5" width="27.5" height="14" rx="2.5" fill="#b9c0c6" stroke="#dfe3e7" stroke-width="3"/><circle cx="20" cy="97" r="2.3" fill="#fafafa"/>
    <rect x="59" y="89" width="44" height="25.5" rx="3" fill="#b9c0c6" stroke="#dfe3e7" stroke-width="3.2"/><circle cx="60" cy="90.5" r="2.4" fill="#fafafa"/>
    <g fill="none" stroke="#80868c" stroke-width="3" stroke-linecap="round"><path d="M67 108 C69 103 72 102 74 106 M78 96 C79 101 81 103 84 100 M88 108 C90 103 93 102 95 106"/></g>
  </g>

</svg>
<svg width="1442" height="625" viewBox="0 0 1442 625">
<g fill="none" stroke="#7a7c82" stroke-width="7.2" stroke-linecap="round"><path d="M300.7 242.6 C302.6 244.8 305.1 247.0 306.3 249.3 C307.6 251.6 308.2 254.1 308.2 256.5 C308.2 258.9 307.6 261.8 306.3 264.0 C305.1 266.2 302.6 268.0 300.7 270.0"/><path d="M314.1 226.9 C316.7 231.4 320.0 235.5 322.0 240.3 C324.0 245.2 325.6 250.8 326.0 256.0 C326.4 261.2 325.6 267.2 324.2 271.7 C322.8 276.2 319.7 279.2 317.5 283.0"/><path d="M328.7 212.3 C331.1 217.5 333.9 222.6 336.0 228.0 C338.1 233.4 340.0 240.0 341.0 245.0 C342.0 250.0 342.3 253.2 342.1 258.0 C341.9 262.8 341.2 268.7 340.0 274.0 C338.8 279.3 336.5 284.8 335.0 290.0 C333.5 295.2 332.1 299.7 331.0 305.0 C329.9 310.3 329.1 316.3 328.2 322.0"/><path d="M300.8 321.5 C299.6 329.7 297.2 338.3 297.2 346.0 C297.2 353.7 297.9 359.8 300.8 367.6 C303.7 375.4 309.9 384.4 314.5 392.8"/><path d="M318.1 330.2 C316.9 335.2 314.2 338.8 314.5 345.3 C314.8 351.8 317.4 363.6 319.6 369.0 C321.8 374.4 324.9 374.8 327.5 377.7"/><path d="M339.7 334.5 C337.3 338.1 334.1 341.6 332.5 345.3 C330.9 349.1 330.8 353.1 330.0 357.0"/></g>
</svg>
<svg width="1442" height="625" viewBox="0 0 1442 625">

  <g fill="#ff0000">
    <path d="M402 297.5 H326 V280 L270 306.5 L326 335 V315.8 H402 Z"/>
    <path d="M270 346 H345.4 V327 L401.5 356 L345.4 384.6 V365.6 H270 Z"/>
    <path d="M656.7 212.1 L665 227.4 L539.3 295.6 L546.5 311.9 L484.6 313.3 L520.5 262.8 L529.9 278.6 Z"/>
    <path d="M510 381 L499.7 393.3 L618 476.5 L604.7 495.2 L666.2 505.5 L638 450.1 L625.7 465.5 Z"/>
    <path d="M872 493.4 H985 V474.2 L1041.4 502.5 L985 531.2 V512 H872 Z"/>
  </g>

</svg>
<svg width="1442" height="625" viewBox="0 0 1442 625">

  <path d="M718 -1.5 H1007 A26 26 0 0 1 1033 24.5 V133.5 A26 26 0 0 1 1007 159.5 H788.2 L773.6 206 L759.9 159.5 H718 A26 26 0 0 1 692.2 133.5 V24.5 A26 26 0 0 1 718 -1.5 Z" fill="#fddde5"/>
  <path d="M65 410.2 H274 L290 355 L306 410.2 H330 A17 17 0 0 1 346.7 427 V500.5 A16.7 16.7 0 0 1 330 517.2 H65 A17 17 0 0 1 48 500.2 V427.2 A17 17 0 0 1 65 410.2 Z" fill="#fddde5"/>

</svg>

<div class="t callout" style="left:713px;top:24px;">UEにデータセッショ<br>ンが作成されたこと<br>を通知</div>
<div class="t callout" style="left:66.5px;top:427px;font-size:30px;line-height:36px;"><span style="letter-spacing:1.6px">eNodeB〜PGW</span>を<br>通じて通信を実施</div>
<div class="t" style="left:1361px;top:465.5px;font-size:20.5px;font-weight:bold;color:#262626;-webkit-text-stroke:0.8px #262626;letter-spacing:0.5px;">アプリ</div>
</body></html>
